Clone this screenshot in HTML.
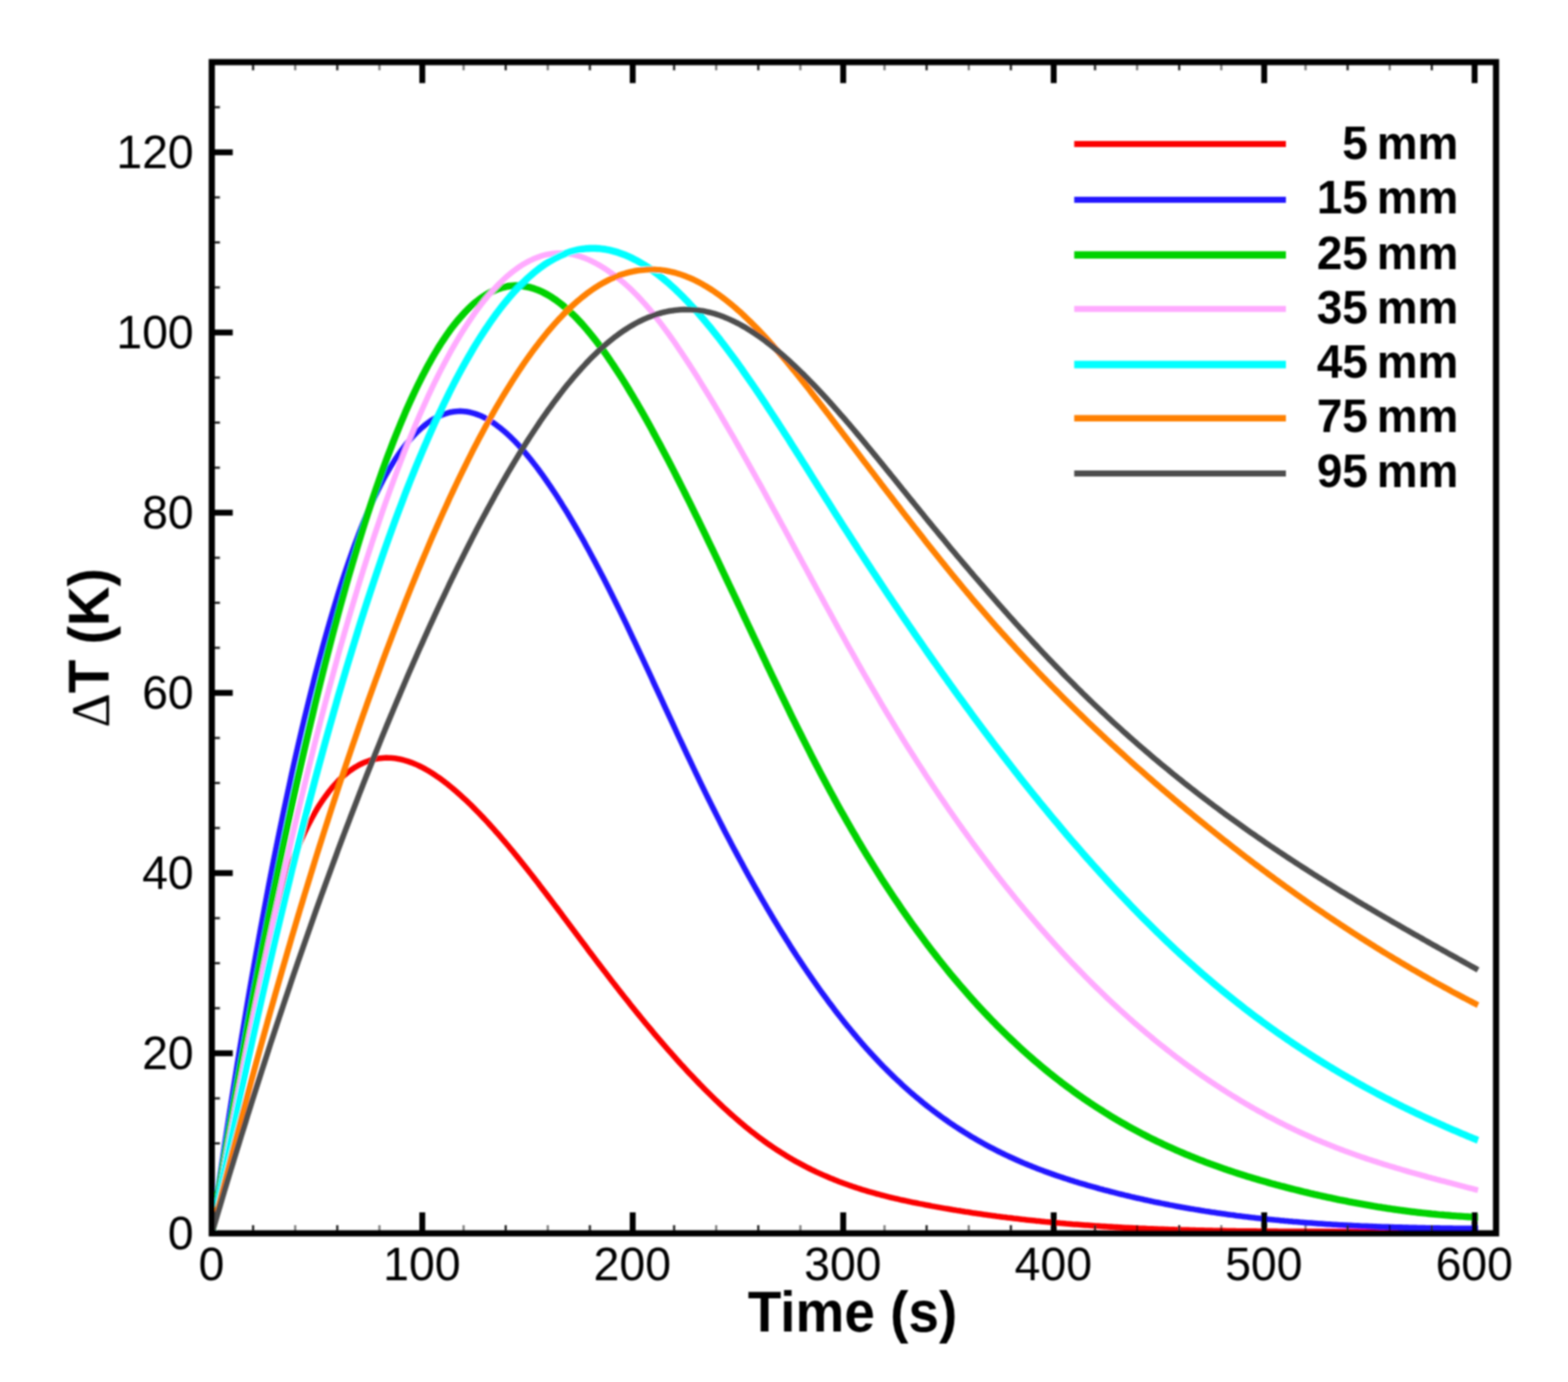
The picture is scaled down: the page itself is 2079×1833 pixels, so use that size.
<!DOCTYPE html>
<html lang="en"><head><meta charset="utf-8"><title>Temperature rise versus time</title>
<style>
html,body{margin:0;padding:0;background:#fff;}
body{width:2079px;height:1833px;overflow:hidden;}
svg{display:block;}
text{font-family:"Liberation Sans",Arial,Helvetica,sans-serif;fill:#000;}
.tl{font-size:62.5px;}
.ax{font-size:75.2px;font-weight:bold;}
.dl{font-size:72.8px;font-weight:normal;font-family:"Liberation Serif","DejaVu Serif",serif;}
.lg{font-size:62.6px;font-weight:bold;word-spacing:-5.26px;}
.cv{fill:none;stroke-linejoin:round;stroke-linecap:butt;}
</style></head><body>
<svg width="2079" height="1833" viewBox="0 0 2079 1833" role="img" aria-label="Temperature rise versus time at seven depths">
<defs>
<clipPath id="plot"><rect x="280.8" y="82.4" width="1702.8" height="1555.4"/></clipPath>
<filter id="soft" x="0" y="0" width="2079" height="1833" filterUnits="userSpaceOnUse"><feGaussianBlur stdDeviation="0.85"/></filter>
</defs>
<rect x="0" y="0" width="2079" height="1833" fill="#ffffff"/>
<g filter="url(#soft)">
<g class="cv" clip-path="url(#plot)">
<path d="M280.8 1636.0 L283.6 1623.6 L286.4 1611.0 L289.2 1598.1 L292.0 1584.9 L294.8 1571.6 L297.5 1558.0 L300.3 1544.3 L303.1 1530.4 L305.9 1516.3 L308.7 1502.2 L311.5 1487.9 L314.3 1473.6 L317.1 1459.2 L319.9 1444.8 L322.7 1430.4 L325.5 1415.9 L328.2 1401.6 L331.0 1387.2 L333.8 1372.9 L336.6 1358.7 L339.4 1344.7 L342.2 1330.7 L345.0 1316.9 L347.8 1303.3 L350.6 1289.9 L353.4 1276.6 L356.1 1263.6 L358.9 1250.9 L361.7 1238.4 L364.5 1226.3 L367.3 1214.4 L370.1 1202.9 L372.9 1191.8 L375.7 1181.2 L378.5 1171.2 L381.3 1161.7 L384.1 1153.0 L386.8 1144.8 L389.6 1137.2 L392.4 1130.0 L395.2 1123.3 L398.0 1116.8 L400.8 1110.6 L403.6 1104.6 L406.4 1098.8 L409.2 1093.3 L412.0 1087.9 L414.8 1082.8 L417.5 1077.9 L420.3 1073.1 L423.1 1068.6 L425.9 1064.3 L428.7 1060.1 L431.5 1056.2 L434.3 1052.4 L437.1 1048.8 L439.9 1045.3 L442.7 1042.1 L445.5 1039.0 L448.2 1036.0 L451.0 1033.2 L453.8 1030.6 L456.6 1028.1 L459.4 1025.8 L462.2 1023.6 L465.0 1021.5 L467.8 1019.6 L470.6 1017.8 L473.4 1016.2 L476.1 1014.6 L478.9 1013.2 L481.7 1011.9 L484.5 1010.7 L487.3 1009.7 L490.1 1008.7 L492.9 1007.9 L495.7 1007.2 L498.5 1006.6 L501.3 1006.1 L504.1 1005.7 L506.8 1005.4 L509.6 1005.2 L512.4 1005.1 L515.2 1005.2 L518.0 1005.3 L520.8 1005.5 L523.6 1005.8 L526.4 1006.2 L529.2 1006.7 L532.0 1007.3 L534.8 1008.0 L537.5 1008.8 L540.3 1009.6 L543.1 1010.6 L545.9 1011.6 L548.7 1012.7 L551.5 1013.9 L554.3 1015.1 L557.1 1016.5 L559.9 1017.9 L562.7 1019.4 L565.5 1021.0 L568.2 1022.6 L571.0 1024.3 L573.8 1026.0 L576.6 1027.9 L579.4 1029.8 L582.2 1031.7 L585.0 1033.7 L587.8 1035.8 L590.6 1038.0 L593.4 1040.1 L596.1 1042.4 L598.9 1044.7 L601.7 1047.0 L604.5 1049.4 L607.3 1051.9 L610.1 1054.3 L612.9 1056.9 L615.7 1059.5 L618.5 1062.1 L621.3 1064.7 L624.1 1067.4 L626.8 1070.2 L629.6 1073.0 L632.4 1075.8 L635.2 1078.7 L638.0 1081.6 L640.8 1084.5 L643.6 1087.5 L646.4 1090.5 L649.2 1093.6 L652.0 1096.7 L654.8 1099.8 L657.5 1102.9 L660.3 1106.1 L663.1 1109.3 L665.9 1112.6 L668.7 1115.8 L671.5 1119.1 L674.3 1122.4 L677.1 1125.8 L679.9 1129.2 L682.7 1132.6 L685.5 1136.0 L688.2 1139.4 L691.0 1142.9 L693.8 1146.4 L696.6 1149.9 L699.4 1153.4 L702.2 1157.0 L705.0 1160.5 L707.8 1164.1 L710.6 1167.7 L713.4 1171.3 L716.1 1175.0 L718.9 1178.6 L721.7 1182.3 L724.5 1185.9 L727.3 1189.6 L730.1 1193.3 L732.9 1197.0 L735.7 1200.7 L738.5 1204.4 L741.3 1208.1 L744.1 1211.8 L746.8 1215.6 L749.6 1219.3 L752.4 1223.0 L755.2 1226.8 L758.0 1230.5 L760.8 1234.2 L763.6 1238.0 L766.4 1241.7 L769.2 1245.5 L772.0 1249.2 L774.8 1252.9 L777.5 1256.6 L780.3 1260.4 L783.1 1264.1 L785.9 1267.8 L788.7 1271.5 L791.5 1275.2 L794.3 1278.9 L797.1 1282.5 L799.9 1286.2 L802.7 1289.8 L805.5 1293.5 L808.2 1297.1 L811.0 1300.7 L813.8 1304.3 L816.6 1307.9 L819.4 1311.5 L822.2 1315.1 L825.0 1318.6 L827.8 1322.2 L830.6 1325.7 L833.4 1329.2 L836.1 1332.7 L838.9 1336.2 L841.7 1339.6 L844.5 1343.1 L847.3 1346.5 L850.1 1350.0 L852.9 1353.4 L855.7 1356.8 L858.5 1360.1 L861.3 1363.5 L864.1 1366.8 L866.8 1370.2 L869.6 1373.5 L872.4 1376.7 L875.2 1380.0 L878.0 1383.3 L880.8 1386.5 L883.6 1389.7 L886.4 1392.9 L889.2 1396.1 L892.0 1399.3 L894.8 1402.4 L897.5 1405.5 L900.3 1408.6 L903.1 1411.7 L905.9 1414.7 L908.7 1417.8 L911.5 1420.8 L914.3 1423.8 L917.1 1426.7 L919.9 1429.7 L922.7 1432.6 L925.5 1435.5 L928.2 1438.4 L931.0 1441.2 L933.8 1444.1 L936.6 1446.9 L939.4 1449.7 L942.2 1452.4 L945.0 1455.1 L947.8 1457.9 L950.6 1460.5 L953.4 1463.2 L956.1 1465.8 L958.9 1468.4 L961.7 1471.0 L964.5 1473.6 L967.3 1476.1 L970.1 1478.6 L972.9 1481.0 L975.7 1483.5 L978.5 1485.9 L981.3 1488.3 L984.1 1490.6 L986.8 1493.0 L989.6 1495.3 L992.4 1497.5 L995.2 1499.8 L998.0 1502.0 L1000.8 1504.1 L1003.6 1506.3 L1006.4 1508.4 L1009.2 1510.5 L1012.0 1512.6 L1014.8 1514.6 L1017.5 1516.6 L1020.3 1518.5 L1023.1 1520.4 L1025.9 1522.3 L1028.7 1524.2 L1031.5 1526.0 L1034.3 1527.8 L1037.1 1529.6 L1039.9 1531.3 L1042.7 1533.1 L1045.5 1534.7 L1048.2 1536.4 L1051.0 1538.0 L1053.8 1539.6 L1056.6 1541.2 L1059.4 1542.7 L1062.2 1544.2 L1065.0 1545.7 L1067.8 1547.2 L1070.6 1548.6 L1073.4 1550.0 L1076.1 1551.4 L1078.9 1552.7 L1081.7 1554.1 L1084.5 1555.4 L1087.3 1556.6 L1090.1 1557.9 L1092.9 1559.1 L1095.7 1560.3 L1098.5 1561.5 L1101.3 1562.7 L1104.1 1563.8 L1106.8 1565.0 L1109.6 1566.1 L1112.4 1567.2 L1115.2 1568.2 L1118.0 1569.3 L1120.8 1570.3 L1123.6 1571.3 L1126.4 1572.3 L1129.2 1573.2 L1132.0 1574.2 L1134.8 1575.1 L1137.5 1576.0 L1140.3 1576.9 L1143.1 1577.8 L1145.9 1578.6 L1148.7 1579.5 L1151.5 1580.3 L1154.3 1581.1 L1157.1 1581.9 L1159.9 1582.7 L1162.7 1583.5 L1165.5 1584.2 L1168.2 1585.0 L1171.0 1585.7 L1173.8 1586.4 L1176.6 1587.1 L1179.4 1587.8 L1182.2 1588.5 L1185.0 1589.1 L1187.8 1589.8 L1190.6 1590.4 L1193.4 1591.1 L1196.1 1591.7 L1198.9 1592.3 L1201.7 1592.9 L1204.5 1593.5 L1207.3 1594.1 L1210.1 1594.7 L1212.9 1595.2 L1215.7 1595.8 L1218.5 1596.4 L1221.3 1596.9 L1224.1 1597.4 L1226.8 1598.0 L1229.6 1598.5 L1232.4 1599.0 L1235.2 1599.6 L1238.0 1600.1 L1240.8 1600.6 L1243.6 1601.1 L1246.4 1601.6 L1249.2 1602.1 L1252.0 1602.6 L1254.8 1603.1 L1257.5 1603.5 L1260.3 1604.0 L1263.1 1604.5 L1265.9 1604.9 L1268.7 1605.4 L1271.5 1605.8 L1274.3 1606.3 L1277.1 1606.7 L1279.9 1607.2 L1282.7 1607.6 L1285.5 1608.0 L1288.2 1608.5 L1291.0 1608.9 L1293.8 1609.3 L1296.6 1609.7 L1299.4 1610.1 L1302.2 1610.5 L1305.0 1610.9 L1307.8 1611.3 L1310.6 1611.7 L1313.4 1612.1 L1316.1 1612.4 L1318.9 1612.8 L1321.7 1613.2 L1324.5 1613.5 L1327.3 1613.9 L1330.1 1614.3 L1332.9 1614.6 L1335.7 1615.0 L1338.5 1615.3 L1341.3 1615.6 L1344.1 1616.0 L1346.8 1616.3 L1349.6 1616.6 L1352.4 1616.9 L1355.2 1617.3 L1358.0 1617.6 L1360.8 1617.9 L1363.6 1618.2 L1366.4 1618.5 L1369.2 1618.8 L1372.0 1619.1 L1374.8 1619.4 L1377.5 1619.6 L1380.3 1619.9 L1383.1 1620.2 L1385.9 1620.5 L1388.7 1620.7 L1391.5 1621.0 L1394.3 1621.3 L1397.1 1621.5 L1399.9 1621.8 L1402.7 1622.0 L1405.5 1622.3 L1408.2 1622.5 L1411.0 1622.7 L1413.8 1623.0 L1416.6 1623.2 L1419.4 1623.4 L1422.2 1623.7 L1425.0 1623.9 L1427.8 1624.1 L1430.6 1624.3 L1433.4 1624.5 L1436.1 1624.7 L1438.9 1624.9 L1441.7 1625.1 L1444.5 1625.3 L1447.3 1625.5 L1450.1 1625.7 L1452.9 1625.9 L1455.7 1626.1 L1458.5 1626.3 L1461.3 1626.5 L1464.1 1626.6 L1466.8 1626.8 L1469.6 1627.0 L1472.4 1627.1 L1475.2 1627.3 L1478.0 1627.5 L1480.8 1627.6 L1483.6 1627.8 L1486.4 1627.9 L1489.2 1628.1 L1492.0 1628.2 L1494.8 1628.4 L1497.5 1628.5 L1500.3 1628.6 L1503.1 1628.8 L1505.9 1628.9 L1508.7 1629.0 L1511.5 1629.2 L1514.3 1629.3 L1517.1 1629.4 L1519.9 1629.5 L1522.7 1629.7 L1525.5 1629.8 L1528.2 1629.9 L1531.0 1630.0 L1533.8 1630.1 L1536.6 1630.2 L1539.4 1630.3 L1542.2 1630.4 L1545.0 1630.5 L1547.8 1630.6 L1550.6 1630.7 L1553.4 1630.8 L1556.1 1630.9 L1558.9 1631.0 L1561.7 1631.0 L1564.5 1631.1 L1567.3 1631.2 L1570.1 1631.3 L1572.9 1631.4 L1575.7 1631.4 L1578.5 1631.5 L1581.3 1631.6 L1584.1 1631.6 L1586.8 1631.7 L1589.6 1631.8 L1592.4 1631.8 L1595.2 1631.9 L1598.0 1632.0 L1600.8 1632.0 L1603.6 1632.1 L1606.4 1632.1 L1609.2 1632.2 L1612.0 1632.2 L1614.8 1632.3 L1617.5 1632.3 L1620.3 1632.4 L1623.1 1632.4 L1625.9 1632.5 L1628.7 1632.5 L1631.5 1632.5 L1634.3 1632.6 L1637.1 1632.6 L1639.9 1632.7 L1642.7 1632.7 L1645.5 1632.7 L1648.2 1632.8 L1651.0 1632.8 L1653.8 1632.8 L1656.6 1632.9 L1659.4 1632.9 L1662.2 1632.9 L1665.0 1632.9 L1667.8 1633.0 L1670.6 1633.0 L1673.4 1633.0 L1676.2 1633.0 L1678.9 1633.0 L1681.7 1633.1 L1684.5 1633.1 L1687.3 1633.1 L1690.1 1633.1 L1692.9 1633.1 L1695.7 1633.2 L1698.5 1633.2 L1701.3 1633.2 L1704.1 1633.2 L1706.8 1633.2 L1709.6 1633.2 L1712.4 1633.2 L1715.2 1633.2 L1718.0 1633.3 L1720.8 1633.3 L1723.6 1633.3 L1726.4 1633.3 L1729.2 1633.3 L1732.0 1633.3 L1734.8 1633.3 L1737.5 1633.3 L1740.3 1633.3 L1743.1 1633.3 L1745.9 1633.3 L1748.7 1633.3 L1751.5 1633.3 L1754.3 1633.3 L1757.1 1633.3 L1759.9 1633.4 L1762.7 1633.4 L1765.5 1633.4 L1768.2 1633.4 L1771.0 1633.4 L1773.8 1633.4 L1776.6 1633.4 L1779.4 1633.4 L1782.2 1633.4 L1785.0 1633.4 L1787.8 1633.4 L1790.6 1633.4 L1793.4 1633.4 L1796.2 1633.4 L1798.9 1633.4 L1801.7 1633.4 L1804.5 1633.4 L1807.3 1633.4 L1810.1 1633.4 L1812.9 1633.4 L1815.7 1633.5 L1818.5 1633.5 L1821.3 1633.5 L1824.1 1633.5 L1826.8 1633.5 L1829.6 1633.5 L1832.4 1633.5 L1835.2 1633.5 L1838.0 1633.5 L1840.8 1633.5 L1843.6 1633.6 L1846.4 1633.6 L1849.2 1633.6 L1852.0 1633.6 L1854.8 1633.6 L1857.5 1633.6 L1860.3 1633.6 L1863.1 1633.7 L1865.9 1633.7 L1868.7 1633.7 L1871.5 1633.7 L1874.3 1633.7 L1877.1 1633.8 L1879.9 1633.8 L1882.7 1633.8 L1885.5 1633.8 L1888.2 1633.9 L1891.0 1633.9 L1893.8 1633.9 L1896.6 1634.0 L1899.4 1634.0 L1902.2 1634.0 L1905.0 1634.1 L1907.8 1634.1 L1910.6 1634.1 L1913.4 1634.2 L1916.2 1634.2 L1918.9 1634.3 L1921.7 1634.3 L1924.5 1634.3 L1927.3 1634.4 L1930.1 1634.4 L1932.9 1634.5 L1935.7 1634.5 L1938.5 1634.6 L1941.3 1634.6 L1944.1 1634.7 L1946.8 1634.8 L1949.6 1634.8 L1952.4 1634.9 L1955.2 1634.9 L1958.0 1635.0 L1959.7 1635.0" stroke="#fb0000" stroke-width="7.56"/>
<path d="M280.8 1636.0 L283.6 1616.4 L286.4 1597.0 L289.2 1577.8 L292.0 1558.8 L294.8 1540.0 L297.5 1521.4 L300.3 1503.0 L303.1 1484.8 L305.9 1466.8 L308.7 1449.1 L311.5 1431.5 L314.3 1414.1 L317.1 1396.9 L319.9 1379.8 L322.7 1363.0 L325.5 1346.4 L328.2 1330.0 L331.0 1313.7 L333.8 1297.6 L336.6 1281.8 L339.4 1266.1 L342.2 1250.6 L345.0 1235.2 L347.8 1220.1 L350.6 1205.1 L353.4 1190.3 L356.1 1175.7 L358.9 1161.3 L361.7 1147.0 L364.5 1132.9 L367.3 1119.0 L370.1 1105.3 L372.9 1091.7 L375.7 1078.3 L378.5 1065.1 L381.3 1052.0 L384.1 1039.1 L386.8 1026.4 L389.6 1013.8 L392.4 1001.4 L395.2 989.1 L398.0 977.1 L400.8 965.2 L403.6 953.4 L406.4 941.8 L409.2 930.4 L412.0 919.2 L414.8 908.1 L417.5 897.1 L420.3 886.4 L423.1 875.8 L425.9 865.4 L428.7 855.1 L431.5 845.0 L434.3 835.1 L437.1 825.4 L439.9 815.8 L442.7 806.4 L445.5 797.2 L448.2 788.1 L451.0 779.2 L453.8 770.5 L456.6 762.0 L459.4 753.6 L462.2 745.4 L465.0 737.4 L467.8 729.6 L470.6 721.9 L473.4 714.5 L476.1 707.2 L478.9 700.1 L481.7 693.1 L484.5 686.4 L487.3 679.8 L490.1 673.4 L492.9 667.2 L495.7 661.2 L498.5 655.3 L501.3 649.6 L504.1 644.1 L506.8 638.7 L509.6 633.5 L512.4 628.5 L515.2 623.6 L518.0 618.9 L520.8 614.4 L523.6 610.0 L526.4 605.8 L529.2 601.7 L532.0 597.8 L534.8 594.0 L537.5 590.4 L540.3 587.0 L543.1 583.7 L545.9 580.5 L548.7 577.5 L551.5 574.6 L554.3 571.9 L557.1 569.3 L559.9 566.8 L562.7 564.5 L565.5 562.3 L568.2 560.3 L571.0 558.3 L573.8 556.5 L576.6 554.9 L579.4 553.4 L582.2 552.0 L585.0 550.7 L587.8 549.6 L590.6 548.6 L593.4 547.8 L596.1 547.0 L598.9 546.5 L601.7 546.0 L604.5 545.7 L607.3 545.5 L610.1 545.4 L612.9 545.5 L615.7 545.7 L618.5 546.0 L621.3 546.5 L624.1 547.1 L626.8 547.8 L629.6 548.6 L632.4 549.6 L635.2 550.6 L638.0 551.8 L640.8 553.1 L643.6 554.6 L646.4 556.1 L649.2 557.7 L652.0 559.5 L654.8 561.3 L657.5 563.3 L660.3 565.4 L663.1 567.5 L665.9 569.8 L668.7 572.2 L671.5 574.6 L674.3 577.2 L677.1 579.8 L679.9 582.6 L682.7 585.4 L685.5 588.3 L688.2 591.3 L691.0 594.4 L693.8 597.6 L696.6 600.9 L699.4 604.2 L702.2 607.6 L705.0 611.1 L707.8 614.7 L710.6 618.3 L713.4 622.0 L716.1 625.8 L718.9 629.6 L721.7 633.5 L724.5 637.5 L727.3 641.6 L730.1 645.7 L732.9 649.8 L735.7 654.0 L738.5 658.3 L741.3 662.7 L744.1 667.1 L746.8 671.6 L749.6 676.1 L752.4 680.6 L755.2 685.3 L758.0 690.0 L760.8 694.7 L763.6 699.5 L766.4 704.4 L769.2 709.3 L772.0 714.2 L774.8 719.2 L777.5 724.2 L780.3 729.3 L783.1 734.5 L785.9 739.7 L788.7 744.9 L791.5 750.2 L794.3 755.5 L797.1 760.9 L799.9 766.3 L802.7 771.7 L805.5 777.2 L808.2 782.7 L811.0 788.3 L813.8 793.9 L816.6 799.5 L819.4 805.2 L822.2 810.9 L825.0 816.7 L827.8 822.4 L830.6 828.2 L833.4 834.1 L836.1 839.9 L838.9 845.8 L841.7 851.7 L844.5 857.6 L847.3 863.6 L850.1 869.5 L852.9 875.5 L855.7 881.5 L858.5 887.5 L861.3 893.5 L864.1 899.5 L866.8 905.6 L869.6 911.6 L872.4 917.7 L875.2 923.7 L878.0 929.7 L880.8 935.8 L883.6 941.8 L886.4 947.9 L889.2 953.9 L892.0 959.9 L894.8 966.0 L897.5 972.0 L900.3 978.0 L903.1 983.9 L905.9 989.9 L908.7 995.9 L911.5 1001.8 L914.3 1007.7 L917.1 1013.6 L919.9 1019.5 L922.7 1025.3 L925.5 1031.1 L928.2 1036.9 L931.0 1042.7 L933.8 1048.4 L936.6 1054.1 L939.4 1059.7 L942.2 1065.4 L945.0 1071.0 L947.8 1076.5 L950.6 1082.1 L953.4 1087.6 L956.1 1093.0 L958.9 1098.5 L961.7 1103.9 L964.5 1109.2 L967.3 1114.6 L970.1 1119.9 L972.9 1125.2 L975.7 1130.4 L978.5 1135.6 L981.3 1140.8 L984.1 1145.9 L986.8 1151.0 L989.6 1156.1 L992.4 1161.2 L995.2 1166.2 L998.0 1171.2 L1000.8 1176.1 L1003.6 1181.0 L1006.4 1185.9 L1009.2 1190.8 L1012.0 1195.6 L1014.8 1200.4 L1017.5 1205.1 L1020.3 1209.8 L1023.1 1214.5 L1025.9 1219.2 L1028.7 1223.8 L1031.5 1228.4 L1034.3 1232.9 L1037.1 1237.5 L1039.9 1241.9 L1042.7 1246.4 L1045.5 1250.8 L1048.2 1255.2 L1051.0 1259.6 L1053.8 1263.9 L1056.6 1268.2 L1059.4 1272.4 L1062.2 1276.6 L1065.0 1280.8 L1067.8 1285.0 L1070.6 1289.1 L1073.4 1293.2 L1076.1 1297.2 L1078.9 1301.2 L1081.7 1305.2 L1084.5 1309.2 L1087.3 1313.1 L1090.1 1316.9 L1092.9 1320.8 L1095.7 1324.6 L1098.5 1328.4 L1101.3 1332.1 L1104.1 1335.8 L1106.8 1339.5 L1109.6 1343.1 L1112.4 1346.7 L1115.2 1350.3 L1118.0 1353.8 L1120.8 1357.3 L1123.6 1360.8 L1126.4 1364.2 L1129.2 1367.6 L1132.0 1371.0 L1134.8 1374.3 L1137.5 1377.6 L1140.3 1380.8 L1143.1 1384.1 L1145.9 1387.2 L1148.7 1390.4 L1151.5 1393.5 L1154.3 1396.6 L1157.1 1399.6 L1159.9 1402.6 L1162.7 1405.6 L1165.5 1408.6 L1168.2 1411.5 L1171.0 1414.3 L1173.8 1417.2 L1176.6 1420.0 L1179.4 1422.7 L1182.2 1425.5 L1185.0 1428.2 L1187.8 1430.9 L1190.6 1433.5 L1193.4 1436.1 L1196.1 1438.7 L1198.9 1441.2 L1201.7 1443.7 L1204.5 1446.2 L1207.3 1448.7 L1210.1 1451.1 L1212.9 1453.5 L1215.7 1455.9 L1218.5 1458.2 L1221.3 1460.5 L1224.1 1462.8 L1226.8 1465.0 L1229.6 1467.2 L1232.4 1469.4 L1235.2 1471.6 L1238.0 1473.7 L1240.8 1475.8 L1243.6 1477.9 L1246.4 1479.9 L1249.2 1482.0 L1252.0 1484.0 L1254.8 1485.9 L1257.5 1487.9 L1260.3 1489.8 L1263.1 1491.7 L1265.9 1493.6 L1268.7 1495.4 L1271.5 1497.2 L1274.3 1499.0 L1277.1 1500.8 L1279.9 1502.6 L1282.7 1504.3 L1285.5 1506.0 L1288.2 1507.7 L1291.0 1509.3 L1293.8 1510.9 L1296.6 1512.6 L1299.4 1514.1 L1302.2 1515.7 L1305.0 1517.3 L1307.8 1518.8 L1310.6 1520.3 L1313.4 1521.8 L1316.1 1523.2 L1318.9 1524.7 L1321.7 1526.1 L1324.5 1527.5 L1327.3 1528.9 L1330.1 1530.2 L1332.9 1531.6 L1335.7 1532.9 L1338.5 1534.2 L1341.3 1535.5 L1344.1 1536.8 L1346.8 1538.0 L1349.6 1539.3 L1352.4 1540.5 L1355.2 1541.7 L1358.0 1542.9 L1360.8 1544.0 L1363.6 1545.2 L1366.4 1546.3 L1369.2 1547.5 L1372.0 1548.6 L1374.8 1549.7 L1377.5 1550.7 L1380.3 1551.8 L1383.1 1552.8 L1385.9 1553.9 L1388.7 1554.9 L1391.5 1555.9 L1394.3 1556.9 L1397.1 1557.9 L1399.9 1558.9 L1402.7 1559.8 L1405.5 1560.8 L1408.2 1561.7 L1411.0 1562.6 L1413.8 1563.5 L1416.6 1564.4 L1419.4 1565.3 L1422.2 1566.2 L1425.0 1567.1 L1427.8 1567.9 L1430.6 1568.8 L1433.4 1569.6 L1436.1 1570.4 L1438.9 1571.2 L1441.7 1572.1 L1444.5 1572.9 L1447.3 1573.7 L1450.1 1574.4 L1452.9 1575.2 L1455.7 1576.0 L1458.5 1576.8 L1461.3 1577.5 L1464.1 1578.3 L1466.8 1579.0 L1469.6 1579.7 L1472.4 1580.5 L1475.2 1581.2 L1478.0 1581.9 L1480.8 1582.6 L1483.6 1583.3 L1486.4 1584.0 L1489.2 1584.7 L1492.0 1585.4 L1494.8 1586.0 L1497.5 1586.7 L1500.3 1587.4 L1503.1 1588.0 L1505.9 1588.7 L1508.7 1589.3 L1511.5 1589.9 L1514.3 1590.5 L1517.1 1591.2 L1519.9 1591.8 L1522.7 1592.4 L1525.5 1593.0 L1528.2 1593.6 L1531.0 1594.2 L1533.8 1594.7 L1536.6 1595.3 L1539.4 1595.9 L1542.2 1596.4 L1545.0 1597.0 L1547.8 1597.5 L1550.6 1598.1 L1553.4 1598.6 L1556.1 1599.1 L1558.9 1599.7 L1561.7 1600.2 L1564.5 1600.7 L1567.3 1601.2 L1570.1 1601.7 L1572.9 1602.2 L1575.7 1602.7 L1578.5 1603.2 L1581.3 1603.6 L1584.1 1604.1 L1586.8 1604.6 L1589.6 1605.0 L1592.4 1605.5 L1595.2 1605.9 L1598.0 1606.4 L1600.8 1606.8 L1603.6 1607.2 L1606.4 1607.7 L1609.2 1608.1 L1612.0 1608.5 L1614.8 1608.9 L1617.5 1609.3 L1620.3 1609.7 L1623.1 1610.1 L1625.9 1610.5 L1628.7 1610.9 L1631.5 1611.3 L1634.3 1611.6 L1637.1 1612.0 L1639.9 1612.4 L1642.7 1612.7 L1645.5 1613.1 L1648.2 1613.4 L1651.0 1613.8 L1653.8 1614.1 L1656.6 1614.4 L1659.4 1614.8 L1662.2 1615.1 L1665.0 1615.4 L1667.8 1615.7 L1670.6 1616.0 L1673.4 1616.3 L1676.2 1616.6 L1678.9 1616.9 L1681.7 1617.2 L1684.5 1617.5 L1687.3 1617.8 L1690.1 1618.1 L1692.9 1618.3 L1695.7 1618.6 L1698.5 1618.9 L1701.3 1619.1 L1704.1 1619.4 L1706.8 1619.6 L1709.6 1619.9 L1712.4 1620.1 L1715.2 1620.4 L1718.0 1620.6 L1720.8 1620.8 L1723.6 1621.1 L1726.4 1621.3 L1729.2 1621.5 L1732.0 1621.7 L1734.8 1621.9 L1737.5 1622.1 L1740.3 1622.3 L1743.1 1622.5 L1745.9 1622.7 L1748.7 1622.9 L1751.5 1623.1 L1754.3 1623.3 L1757.1 1623.5 L1759.9 1623.7 L1762.7 1623.8 L1765.5 1624.0 L1768.2 1624.2 L1771.0 1624.3 L1773.8 1624.5 L1776.6 1624.7 L1779.4 1624.8 L1782.2 1625.0 L1785.0 1625.1 L1787.8 1625.3 L1790.6 1625.4 L1793.4 1625.5 L1796.2 1625.7 L1798.9 1625.8 L1801.7 1625.9 L1804.5 1626.1 L1807.3 1626.2 L1810.1 1626.3 L1812.9 1626.4 L1815.7 1626.5 L1818.5 1626.6 L1821.3 1626.8 L1824.1 1626.9 L1826.8 1627.0 L1829.6 1627.1 L1832.4 1627.2 L1835.2 1627.3 L1838.0 1627.4 L1840.8 1627.4 L1843.6 1627.5 L1846.4 1627.6 L1849.2 1627.7 L1852.0 1627.8 L1854.8 1627.9 L1857.5 1627.9 L1860.3 1628.0 L1863.1 1628.1 L1865.9 1628.1 L1868.7 1628.2 L1871.5 1628.3 L1874.3 1628.3 L1877.1 1628.4 L1879.9 1628.5 L1882.7 1628.5 L1885.5 1628.6 L1888.2 1628.6 L1891.0 1628.7 L1893.8 1628.7 L1896.6 1628.8 L1899.4 1628.8 L1902.2 1628.9 L1905.0 1628.9 L1907.8 1628.9 L1910.6 1629.0 L1913.4 1629.0 L1916.2 1629.0 L1918.9 1629.1 L1921.7 1629.1 L1924.5 1629.1 L1927.3 1629.2 L1930.1 1629.2 L1932.9 1629.2 L1935.7 1629.2 L1938.5 1629.3 L1941.3 1629.3 L1944.1 1629.3 L1946.8 1629.3 L1949.6 1629.4 L1952.4 1629.4 L1955.2 1629.4 L1958.0 1629.4 L1959.7 1629.4" stroke="#2018ff" stroke-width="7.56"/>
<path d="M280.8 1636.0 L283.6 1619.0 L286.4 1602.2 L289.2 1585.4 L292.0 1568.8 L294.8 1552.3 L297.5 1535.9 L300.3 1519.6 L303.1 1503.3 L305.9 1487.3 L308.7 1471.3 L311.5 1455.4 L314.3 1439.6 L317.1 1424.0 L319.9 1408.4 L322.7 1393.0 L325.5 1377.7 L328.2 1362.4 L331.0 1347.3 L333.8 1332.3 L336.6 1317.4 L339.4 1302.7 L342.2 1288.0 L345.0 1273.4 L347.8 1259.0 L350.6 1244.7 L353.4 1230.4 L356.1 1216.3 L358.9 1202.3 L361.7 1188.4 L364.5 1174.7 L367.3 1161.0 L370.1 1147.5 L372.9 1134.0 L375.7 1120.7 L378.5 1107.5 L381.3 1094.4 L384.1 1081.4 L386.8 1068.5 L389.6 1055.8 L392.4 1043.1 L395.2 1030.6 L398.0 1018.2 L400.8 1005.9 L403.6 993.7 L406.4 981.6 L409.2 969.7 L412.0 957.9 L414.8 946.1 L417.5 934.5 L420.3 923.0 L423.1 911.6 L425.9 900.4 L428.7 889.2 L431.5 878.2 L434.3 867.3 L437.1 856.5 L439.9 845.8 L442.7 835.2 L445.5 824.8 L448.2 814.5 L451.0 804.2 L453.8 794.2 L456.6 784.2 L459.4 774.3 L462.2 764.6 L465.0 754.9 L467.8 745.4 L470.6 736.1 L473.4 726.8 L476.1 717.6 L478.9 708.6 L481.7 699.7 L484.5 690.9 L487.3 682.2 L490.1 673.7 L492.9 665.2 L495.7 656.9 L498.5 648.7 L501.3 640.7 L504.1 632.7 L506.8 624.9 L509.6 617.2 L512.4 609.6 L515.2 602.1 L518.0 594.8 L520.8 587.5 L523.6 580.4 L526.4 573.5 L529.2 566.6 L532.0 559.8 L534.8 553.2 L537.5 546.7 L540.3 540.4 L543.1 534.1 L545.9 528.0 L548.7 522.0 L551.5 516.1 L554.3 510.3 L557.1 504.7 L559.9 499.2 L562.7 493.8 L565.5 488.5 L568.2 483.4 L571.0 478.4 L573.8 473.5 L576.6 468.7 L579.4 464.1 L582.2 459.5 L585.0 455.1 L587.8 450.9 L590.6 446.7 L593.4 442.7 L596.1 438.8 L598.9 435.0 L601.7 431.4 L604.5 427.9 L607.3 424.5 L610.1 421.2 L612.9 418.1 L615.7 415.0 L618.5 412.1 L621.3 409.3 L624.1 406.7 L626.8 404.2 L629.6 401.7 L632.4 399.5 L635.2 397.3 L638.0 395.2 L640.8 393.3 L643.6 391.5 L646.4 389.8 L649.2 388.3 L652.0 386.8 L654.8 385.5 L657.5 384.3 L660.3 383.2 L663.1 382.3 L665.9 381.4 L668.7 380.7 L671.5 380.1 L674.3 379.6 L677.1 379.2 L679.9 379.0 L682.7 378.8 L685.5 378.8 L688.2 378.9 L691.0 379.1 L693.8 379.4 L696.6 379.9 L699.4 380.4 L702.2 381.0 L705.0 381.8 L707.8 382.7 L710.6 383.7 L713.4 384.7 L716.1 385.9 L718.9 387.2 L721.7 388.6 L724.5 390.1 L727.3 391.7 L730.1 393.4 L732.9 395.2 L735.7 397.1 L738.5 399.1 L741.3 401.2 L744.1 403.3 L746.8 405.6 L749.6 408.0 L752.4 410.4 L755.2 413.0 L758.0 415.6 L760.8 418.3 L763.6 421.1 L766.4 424.0 L769.2 427.0 L772.0 430.0 L774.8 433.2 L777.5 436.4 L780.3 439.7 L783.1 443.1 L785.9 446.6 L788.7 450.1 L791.5 453.7 L794.3 457.4 L797.1 461.2 L799.9 465.0 L802.7 468.9 L805.5 472.9 L808.2 476.9 L811.0 481.0 L813.8 485.1 L816.6 489.4 L819.4 493.7 L822.2 498.0 L825.0 502.4 L827.8 506.9 L830.6 511.4 L833.4 516.0 L836.1 520.6 L838.9 525.2 L841.7 530.0 L844.5 534.7 L847.3 539.6 L850.1 544.4 L852.9 549.3 L855.7 554.3 L858.5 559.3 L861.3 564.3 L864.1 569.4 L866.8 574.5 L869.6 579.6 L872.4 584.8 L875.2 590.0 L878.0 595.3 L880.8 600.6 L883.6 605.9 L886.4 611.2 L889.2 616.6 L892.0 622.0 L894.8 627.5 L897.5 632.9 L900.3 638.4 L903.1 644.0 L905.9 649.5 L908.7 655.1 L911.5 660.7 L914.3 666.3 L917.1 672.0 L919.9 677.7 L922.7 683.4 L925.5 689.1 L928.2 694.8 L931.0 700.6 L933.8 706.3 L936.6 712.1 L939.4 717.9 L942.2 723.7 L945.0 729.5 L947.8 735.4 L950.6 741.2 L953.4 747.1 L956.1 753.0 L958.9 758.9 L961.7 764.8 L964.5 770.7 L967.3 776.6 L970.1 782.5 L972.9 788.4 L975.7 794.3 L978.5 800.2 L981.3 806.1 L984.1 812.1 L986.8 818.0 L989.6 823.9 L992.4 829.9 L995.2 835.8 L998.0 841.7 L1000.8 847.6 L1003.6 853.5 L1006.4 859.4 L1009.2 865.3 L1012.0 871.2 L1014.8 877.1 L1017.5 883.0 L1020.3 888.8 L1023.1 894.7 L1025.9 900.5 L1028.7 906.3 L1031.5 912.1 L1034.3 917.9 L1037.1 923.7 L1039.9 929.5 L1042.7 935.2 L1045.5 941.0 L1048.2 946.7 L1051.0 952.4 L1053.8 958.0 L1056.6 963.7 L1059.4 969.3 L1062.2 974.9 L1065.0 980.5 L1067.8 986.0 L1070.6 991.5 L1073.4 997.0 L1076.1 1002.5 L1078.9 1007.9 L1081.7 1013.3 L1084.5 1018.7 L1087.3 1024.1 L1090.1 1029.4 L1092.9 1034.7 L1095.7 1039.9 L1098.5 1045.1 L1101.3 1050.3 L1104.1 1055.4 L1106.8 1060.5 L1109.6 1065.6 L1112.4 1070.7 L1115.2 1075.7 L1118.0 1080.6 L1120.8 1085.6 L1123.6 1090.5 L1126.4 1095.3 L1129.2 1100.2 L1132.0 1105.0 L1134.8 1109.7 L1137.5 1114.5 L1140.3 1119.2 L1143.1 1123.8 L1145.9 1128.5 L1148.7 1133.1 L1151.5 1137.6 L1154.3 1142.2 L1157.1 1146.7 L1159.9 1151.1 L1162.7 1155.6 L1165.5 1160.0 L1168.2 1164.4 L1171.0 1168.7 L1173.8 1173.0 L1176.6 1177.3 L1179.4 1181.6 L1182.2 1185.8 L1185.0 1190.0 L1187.8 1194.1 L1190.6 1198.2 L1193.4 1202.3 L1196.1 1206.4 L1198.9 1210.4 L1201.7 1214.4 L1204.5 1218.4 L1207.3 1222.4 L1210.1 1226.3 L1212.9 1230.2 L1215.7 1234.0 L1218.5 1237.8 L1221.3 1241.6 L1224.1 1245.4 L1226.8 1249.1 L1229.6 1252.9 L1232.4 1256.5 L1235.2 1260.2 L1238.0 1263.8 L1240.8 1267.4 L1243.6 1271.0 L1246.4 1274.5 L1249.2 1278.0 L1252.0 1281.5 L1254.8 1285.0 L1257.5 1288.4 L1260.3 1291.8 L1263.1 1295.2 L1265.9 1298.5 L1268.7 1301.8 L1271.5 1305.1 L1274.3 1308.4 L1277.1 1311.6 L1279.9 1314.8 L1282.7 1318.0 L1285.5 1321.2 L1288.2 1324.3 L1291.0 1327.4 L1293.8 1330.5 L1296.6 1333.6 L1299.4 1336.6 L1302.2 1339.6 L1305.0 1342.6 L1307.8 1345.5 L1310.6 1348.5 L1313.4 1351.4 L1316.1 1354.3 L1318.9 1357.1 L1321.7 1359.9 L1324.5 1362.8 L1327.3 1365.5 L1330.1 1368.3 L1332.9 1371.0 L1335.7 1373.7 L1338.5 1376.4 L1341.3 1379.1 L1344.1 1381.7 L1346.8 1384.3 L1349.6 1386.9 L1352.4 1389.5 L1355.2 1392.1 L1358.0 1394.6 L1360.8 1397.1 L1363.6 1399.6 L1366.4 1402.0 L1369.2 1404.5 L1372.0 1406.9 L1374.8 1409.3 L1377.5 1411.6 L1380.3 1414.0 L1383.1 1416.3 L1385.9 1418.6 L1388.7 1420.9 L1391.5 1423.2 L1394.3 1425.4 L1397.1 1427.6 L1399.9 1429.8 L1402.7 1432.0 L1405.5 1434.2 L1408.2 1436.3 L1411.0 1438.4 L1413.8 1440.5 L1416.6 1442.6 L1419.4 1444.6 L1422.2 1446.7 L1425.0 1448.7 L1427.8 1450.7 L1430.6 1452.7 L1433.4 1454.6 L1436.1 1456.6 L1438.9 1458.5 L1441.7 1460.4 L1444.5 1462.3 L1447.3 1464.2 L1450.1 1466.0 L1452.9 1467.8 L1455.7 1469.7 L1458.5 1471.4 L1461.3 1473.2 L1464.1 1475.0 L1466.8 1476.7 L1469.6 1478.4 L1472.4 1480.2 L1475.2 1481.8 L1478.0 1483.5 L1480.8 1485.2 L1483.6 1486.8 L1486.4 1488.4 L1489.2 1490.0 L1492.0 1491.6 L1494.8 1493.2 L1497.5 1494.7 L1500.3 1496.3 L1503.1 1497.8 L1505.9 1499.3 L1508.7 1500.8 L1511.5 1502.3 L1514.3 1503.8 L1517.1 1505.2 L1519.9 1506.6 L1522.7 1508.1 L1525.5 1509.5 L1528.2 1510.8 L1531.0 1512.2 L1533.8 1513.6 L1536.6 1514.9 L1539.4 1516.2 L1542.2 1517.6 L1545.0 1518.9 L1547.8 1520.2 L1550.6 1521.4 L1553.4 1522.7 L1556.1 1523.9 L1558.9 1525.2 L1561.7 1526.4 L1564.5 1527.6 L1567.3 1528.8 L1570.1 1530.0 L1572.9 1531.2 L1575.7 1532.3 L1578.5 1533.5 L1581.3 1534.6 L1584.1 1535.7 L1586.8 1536.8 L1589.6 1537.9 L1592.4 1539.0 L1595.2 1540.1 L1598.0 1541.2 L1600.8 1542.2 L1603.6 1543.3 L1606.4 1544.3 L1609.2 1545.3 L1612.0 1546.3 L1614.8 1547.3 L1617.5 1548.3 L1620.3 1549.3 L1623.1 1550.3 L1625.9 1551.2 L1628.7 1552.2 L1631.5 1553.1 L1634.3 1554.0 L1637.1 1555.0 L1639.9 1555.9 L1642.7 1556.8 L1645.5 1557.7 L1648.2 1558.5 L1651.0 1559.4 L1653.8 1560.3 L1656.6 1561.1 L1659.4 1562.0 L1662.2 1562.8 L1665.0 1563.7 L1667.8 1564.5 L1670.6 1565.3 L1673.4 1566.1 L1676.2 1566.9 L1678.9 1567.7 L1681.7 1568.5 L1684.5 1569.3 L1687.3 1570.1 L1690.1 1570.8 L1692.9 1571.6 L1695.7 1572.3 L1698.5 1573.1 L1701.3 1573.8 L1704.1 1574.5 L1706.8 1575.3 L1709.6 1576.0 L1712.4 1576.7 L1715.2 1577.4 L1718.0 1578.1 L1720.8 1578.8 L1723.6 1579.5 L1726.4 1580.2 L1729.2 1580.9 L1732.0 1581.5 L1734.8 1582.2 L1737.5 1582.9 L1740.3 1583.5 L1743.1 1584.2 L1745.9 1584.8 L1748.7 1585.4 L1751.5 1586.1 L1754.3 1586.7 L1757.1 1587.3 L1759.9 1587.9 L1762.7 1588.5 L1765.5 1589.1 L1768.2 1589.7 L1771.0 1590.3 L1773.8 1590.9 L1776.6 1591.5 L1779.4 1592.0 L1782.2 1592.6 L1785.0 1593.1 L1787.8 1593.7 L1790.6 1594.2 L1793.4 1594.8 L1796.2 1595.3 L1798.9 1595.8 L1801.7 1596.3 L1804.5 1596.8 L1807.3 1597.3 L1810.1 1597.8 L1812.9 1598.3 L1815.7 1598.8 L1818.5 1599.3 L1821.3 1599.8 L1824.1 1600.2 L1826.8 1600.7 L1829.6 1601.1 L1832.4 1601.6 L1835.2 1602.0 L1838.0 1602.4 L1840.8 1602.9 L1843.6 1603.3 L1846.4 1603.7 L1849.2 1604.1 L1852.0 1604.5 L1854.8 1604.9 L1857.5 1605.2 L1860.3 1605.6 L1863.1 1606.0 L1865.9 1606.4 L1868.7 1606.7 L1871.5 1607.1 L1874.3 1607.4 L1877.1 1607.7 L1879.9 1608.1 L1882.7 1608.4 L1885.5 1608.7 L1888.2 1609.0 L1891.0 1609.3 L1893.8 1609.6 L1896.6 1609.9 L1899.4 1610.2 L1902.2 1610.4 L1905.0 1610.7 L1907.8 1611.0 L1910.6 1611.2 L1913.4 1611.4 L1916.2 1611.7 L1918.9 1611.9 L1921.7 1612.1 L1924.5 1612.4 L1927.3 1612.6 L1930.1 1612.8 L1932.9 1613.0 L1935.7 1613.1 L1938.5 1613.3 L1941.3 1613.5 L1944.1 1613.7 L1946.8 1613.8 L1949.6 1614.0 L1952.4 1614.1 L1955.2 1614.2 L1958.0 1614.4 L1959.7 1614.4" stroke="#00d200" stroke-width="9.17"/>
<path d="M280.8 1636.0 L283.6 1620.6 L286.4 1605.2 L289.2 1589.9 L292.0 1574.8 L294.8 1559.7 L297.5 1544.7 L300.3 1529.8 L303.1 1515.0 L305.9 1500.3 L308.7 1485.6 L311.5 1471.1 L314.3 1456.6 L317.1 1442.3 L319.9 1428.0 L322.7 1413.8 L325.5 1399.7 L328.2 1385.7 L331.0 1371.8 L333.8 1358.0 L336.6 1344.3 L339.4 1330.6 L342.2 1317.1 L345.0 1303.6 L347.8 1290.3 L350.6 1277.0 L353.4 1263.8 L356.1 1250.7 L358.9 1237.7 L361.7 1224.8 L364.5 1212.0 L367.3 1199.3 L370.1 1186.6 L372.9 1174.1 L375.7 1161.6 L378.5 1149.2 L381.3 1137.0 L384.1 1124.8 L386.8 1112.7 L389.6 1100.7 L392.4 1088.8 L395.2 1076.9 L398.0 1065.2 L400.8 1053.6 L403.6 1042.0 L406.4 1030.6 L409.2 1019.2 L412.0 1007.9 L414.8 996.7 L417.5 985.6 L420.3 974.6 L423.1 963.7 L425.9 952.9 L428.7 942.2 L431.5 931.5 L434.3 921.0 L437.1 910.5 L439.9 900.2 L442.7 889.9 L445.5 879.7 L448.2 869.6 L451.0 859.6 L453.8 849.7 L456.6 839.9 L459.4 830.2 L462.2 820.6 L465.0 811.1 L467.8 801.6 L470.6 792.3 L473.4 783.0 L476.1 773.9 L478.9 764.8 L481.7 755.8 L484.5 747.0 L487.3 738.2 L490.1 729.5 L492.9 720.9 L495.7 712.4 L498.5 704.0 L501.3 695.7 L504.1 687.4 L506.8 679.3 L509.6 671.3 L512.4 663.3 L515.2 655.5 L518.0 647.7 L520.8 640.1 L523.6 632.5 L526.4 625.0 L529.2 617.6 L532.0 610.4 L534.8 603.2 L537.5 596.1 L540.3 589.1 L543.1 582.2 L545.9 575.4 L548.7 568.6 L551.5 562.0 L554.3 555.5 L557.1 549.0 L559.9 542.7 L562.7 536.5 L565.5 530.3 L568.2 524.3 L571.0 518.3 L573.8 512.4 L576.6 506.7 L579.4 501.0 L582.2 495.4 L585.0 489.9 L587.8 484.5 L590.6 479.2 L593.4 474.0 L596.1 468.9 L598.9 463.9 L601.7 459.0 L604.5 454.2 L607.3 449.5 L610.1 444.8 L612.9 440.3 L615.7 435.9 L618.5 431.5 L621.3 427.3 L624.1 423.1 L626.8 419.1 L629.6 415.1 L632.4 411.2 L635.2 407.5 L638.0 403.8 L640.8 400.2 L643.6 396.7 L646.4 393.4 L649.2 390.1 L652.0 386.9 L654.8 383.8 L657.5 380.8 L660.3 377.9 L663.1 375.1 L665.9 372.4 L668.7 369.8 L671.5 367.2 L674.3 364.8 L677.1 362.5 L679.9 360.3 L682.7 358.1 L685.5 356.1 L688.2 354.2 L691.0 352.3 L693.8 350.6 L696.6 348.9 L699.4 347.4 L702.2 345.9 L705.0 344.6 L707.8 343.3 L710.6 342.1 L713.4 341.1 L716.1 340.1 L718.9 339.2 L721.7 338.4 L724.5 337.8 L727.3 337.2 L730.1 336.7 L732.9 336.3 L735.7 336.0 L738.5 335.8 L741.3 335.7 L744.1 335.8 L746.8 335.9 L749.6 336.1 L752.4 336.4 L755.2 336.7 L758.0 337.2 L760.8 337.8 L763.6 338.5 L766.4 339.3 L769.2 340.1 L772.0 341.1 L774.8 342.1 L777.5 343.2 L780.3 344.4 L783.1 345.7 L785.9 347.1 L788.7 348.5 L791.5 350.0 L794.3 351.6 L797.1 353.3 L799.9 355.0 L802.7 356.8 L805.5 358.6 L808.2 360.6 L811.0 362.5 L813.8 364.6 L816.6 366.7 L819.4 368.8 L822.2 371.1 L825.0 373.4 L827.8 375.7 L830.6 378.2 L833.4 380.7 L836.1 383.3 L838.9 386.0 L841.7 388.8 L844.5 391.6 L847.3 394.6 L850.1 397.6 L852.9 400.7 L855.7 403.8 L858.5 407.0 L861.3 410.3 L864.1 413.7 L866.8 417.1 L869.6 420.6 L872.4 424.2 L875.2 427.8 L878.0 431.5 L880.8 435.2 L883.6 439.0 L886.4 442.8 L889.2 446.7 L892.0 450.7 L894.8 454.7 L897.5 458.7 L900.3 462.8 L903.1 466.9 L905.9 471.1 L908.7 475.3 L911.5 479.6 L914.3 483.9 L917.1 488.2 L919.9 492.6 L922.7 497.0 L925.5 501.4 L928.2 505.9 L931.0 510.4 L933.8 514.9 L936.6 519.4 L939.4 524.0 L942.2 528.6 L945.0 533.2 L947.8 537.9 L950.6 542.6 L953.4 547.2 L956.1 552.0 L958.9 556.7 L961.7 561.5 L964.5 566.3 L967.3 571.1 L970.1 575.9 L972.9 580.7 L975.7 585.6 L978.5 590.5 L981.3 595.4 L984.1 600.3 L986.8 605.2 L989.6 610.2 L992.4 615.1 L995.2 620.1 L998.0 625.1 L1000.8 630.1 L1003.6 635.2 L1006.4 640.2 L1009.2 645.2 L1012.0 650.3 L1014.8 655.4 L1017.5 660.4 L1020.3 665.5 L1023.1 670.6 L1025.9 675.7 L1028.7 680.8 L1031.5 685.9 L1034.3 691.1 L1037.1 696.2 L1039.9 701.3 L1042.7 706.5 L1045.5 711.6 L1048.2 716.8 L1051.0 721.9 L1053.8 727.1 L1056.6 732.2 L1059.4 737.4 L1062.2 742.5 L1065.0 747.7 L1067.8 752.8 L1070.6 758.0 L1073.4 763.1 L1076.1 768.3 L1078.9 773.4 L1081.7 778.5 L1084.5 783.7 L1087.3 788.8 L1090.1 793.9 L1092.9 799.1 L1095.7 804.2 L1098.5 809.3 L1101.3 814.4 L1104.1 819.5 L1106.8 824.5 L1109.6 829.6 L1112.4 834.7 L1115.2 839.7 L1118.0 844.7 L1120.8 849.8 L1123.6 854.8 L1126.4 859.8 L1129.2 864.7 L1132.0 869.7 L1134.8 874.7 L1137.5 879.6 L1140.3 884.5 L1143.1 889.4 L1145.9 894.3 L1148.7 899.2 L1151.5 904.0 L1154.3 908.8 L1157.1 913.6 L1159.9 918.4 L1162.7 923.2 L1165.5 927.9 L1168.2 932.7 L1171.0 937.4 L1173.8 942.0 L1176.6 946.7 L1179.4 951.3 L1182.2 955.9 L1185.0 960.5 L1187.8 965.1 L1190.6 969.7 L1193.4 974.2 L1196.1 978.7 L1198.9 983.2 L1201.7 987.7 L1204.5 992.1 L1207.3 996.5 L1210.1 1000.9 L1212.9 1005.3 L1215.7 1009.7 L1218.5 1014.0 L1221.3 1018.3 L1224.1 1022.6 L1226.8 1026.9 L1229.6 1031.2 L1232.4 1035.4 L1235.2 1039.6 L1238.0 1043.8 L1240.8 1048.0 L1243.6 1052.2 L1246.4 1056.3 L1249.2 1060.4 L1252.0 1064.5 L1254.8 1068.6 L1257.5 1072.6 L1260.3 1076.7 L1263.1 1080.7 L1265.9 1084.7 L1268.7 1088.6 L1271.5 1092.6 L1274.3 1096.5 L1277.1 1100.5 L1279.9 1104.3 L1282.7 1108.2 L1285.5 1112.1 L1288.2 1115.9 L1291.0 1119.7 L1293.8 1123.5 L1296.6 1127.3 L1299.4 1131.1 L1302.2 1134.8 L1305.0 1138.5 L1307.8 1142.2 L1310.6 1145.9 L1313.4 1149.6 L1316.1 1153.2 L1318.9 1156.8 L1321.7 1160.4 L1324.5 1164.0 L1327.3 1167.6 L1330.1 1171.1 L1332.9 1174.7 L1335.7 1178.2 L1338.5 1181.7 L1341.3 1185.1 L1344.1 1188.6 L1346.8 1192.0 L1349.6 1195.4 L1352.4 1198.8 L1355.2 1202.2 L1358.0 1205.6 L1360.8 1208.9 L1363.6 1212.2 L1366.4 1215.5 L1369.2 1218.8 L1372.0 1222.1 L1374.8 1225.3 L1377.5 1228.5 L1380.3 1231.8 L1383.1 1234.9 L1385.9 1238.1 L1388.7 1241.3 L1391.5 1244.4 L1394.3 1247.5 L1397.1 1250.6 L1399.9 1253.7 L1402.7 1256.8 L1405.5 1259.8 L1408.2 1262.9 L1411.0 1265.9 L1413.8 1268.9 L1416.6 1271.9 L1419.4 1274.8 L1422.2 1277.8 L1425.0 1280.7 L1427.8 1283.6 L1430.6 1286.5 L1433.4 1289.4 L1436.1 1292.2 L1438.9 1295.1 L1441.7 1297.9 L1444.5 1300.7 L1447.3 1303.5 L1450.1 1306.2 L1452.9 1309.0 L1455.7 1311.7 L1458.5 1314.4 L1461.3 1317.2 L1464.1 1319.8 L1466.8 1322.5 L1469.6 1325.2 L1472.4 1327.8 L1475.2 1330.4 L1478.0 1333.0 L1480.8 1335.6 L1483.6 1338.2 L1486.4 1340.7 L1489.2 1343.2 L1492.0 1345.8 L1494.8 1348.3 L1497.5 1350.8 L1500.3 1353.2 L1503.1 1355.7 L1505.9 1358.1 L1508.7 1360.5 L1511.5 1362.9 L1514.3 1365.3 L1517.1 1367.7 L1519.9 1370.1 L1522.7 1372.4 L1525.5 1374.7 L1528.2 1377.0 L1531.0 1379.3 L1533.8 1381.6 L1536.6 1383.9 L1539.4 1386.1 L1542.2 1388.3 L1545.0 1390.5 L1547.8 1392.7 L1550.6 1394.9 L1553.4 1397.1 L1556.1 1399.2 L1558.9 1401.4 L1561.7 1403.5 L1564.5 1405.6 L1567.3 1407.7 L1570.1 1409.8 L1572.9 1411.8 L1575.7 1413.9 L1578.5 1415.9 L1581.3 1417.9 L1584.1 1419.9 L1586.8 1421.9 L1589.6 1423.9 L1592.4 1425.8 L1595.2 1427.8 L1598.0 1429.7 L1600.8 1431.6 L1603.6 1433.5 L1606.4 1435.4 L1609.2 1437.2 L1612.0 1439.1 L1614.8 1440.9 L1617.5 1442.7 L1620.3 1444.6 L1623.1 1446.3 L1625.9 1448.1 L1628.7 1449.9 L1631.5 1451.6 L1634.3 1453.4 L1637.1 1455.1 L1639.9 1456.8 L1642.7 1458.5 L1645.5 1460.2 L1648.2 1461.8 L1651.0 1463.5 L1653.8 1465.1 L1656.6 1466.8 L1659.4 1468.4 L1662.2 1470.0 L1665.0 1471.5 L1667.8 1473.1 L1670.6 1474.7 L1673.4 1476.2 L1676.2 1477.7 L1678.9 1479.3 L1681.7 1480.8 L1684.5 1482.2 L1687.3 1483.7 L1690.1 1485.2 L1692.9 1486.6 L1695.7 1488.1 L1698.5 1489.5 L1701.3 1490.9 L1704.1 1492.3 L1706.8 1493.7 L1709.6 1495.0 L1712.4 1496.4 L1715.2 1497.7 L1718.0 1499.1 L1720.8 1500.4 L1723.6 1501.7 L1726.4 1503.0 L1729.2 1504.3 L1732.0 1505.5 L1734.8 1506.8 L1737.5 1508.0 L1740.3 1509.2 L1743.1 1510.5 L1745.9 1511.7 L1748.7 1512.8 L1751.5 1514.0 L1754.3 1515.2 L1757.1 1516.3 L1759.9 1517.5 L1762.7 1518.6 L1765.5 1519.7 L1768.2 1520.8 L1771.0 1521.9 L1773.8 1523.0 L1776.6 1524.1 L1779.4 1525.1 L1782.2 1526.2 L1785.0 1527.2 L1787.8 1528.3 L1790.6 1529.3 L1793.4 1530.3 L1796.2 1531.3 L1798.9 1532.3 L1801.7 1533.2 L1804.5 1534.2 L1807.3 1535.2 L1810.1 1536.1 L1812.9 1537.1 L1815.7 1538.0 L1818.5 1538.9 L1821.3 1539.8 L1824.1 1540.7 L1826.8 1541.6 L1829.6 1542.5 L1832.4 1543.4 L1835.2 1544.3 L1838.0 1545.1 L1840.8 1546.0 L1843.6 1546.9 L1846.4 1547.7 L1849.2 1548.5 L1852.0 1549.4 L1854.8 1550.2 L1857.5 1551.0 L1860.3 1551.8 L1863.1 1552.7 L1865.9 1553.5 L1868.7 1554.3 L1871.5 1555.1 L1874.3 1555.8 L1877.1 1556.6 L1879.9 1557.4 L1882.7 1558.2 L1885.5 1559.0 L1888.2 1559.7 L1891.0 1560.5 L1893.8 1561.3 L1896.6 1562.0 L1899.4 1562.8 L1902.2 1563.5 L1905.0 1564.3 L1907.8 1565.0 L1910.6 1565.8 L1913.4 1566.5 L1916.2 1567.2 L1918.9 1568.0 L1921.7 1568.7 L1924.5 1569.4 L1927.3 1570.2 L1930.1 1570.9 L1932.9 1571.6 L1935.7 1572.4 L1938.5 1573.1 L1941.3 1573.8 L1944.1 1574.6 L1946.8 1575.3 L1949.6 1576.0 L1952.4 1576.7 L1955.2 1577.5 L1958.0 1578.2 L1959.7 1578.6" stroke="#ffaaff" stroke-width="7.56"/>
<path d="M280.8 1636.0 L283.6 1622.0 L286.4 1608.1 L289.2 1594.3 L292.0 1580.5 L294.8 1566.8 L297.5 1553.2 L300.3 1539.6 L303.1 1526.1 L305.9 1512.7 L308.7 1499.4 L311.5 1486.1 L314.3 1472.9 L317.1 1459.8 L319.9 1446.7 L322.7 1433.7 L325.5 1420.8 L328.2 1407.9 L331.0 1395.2 L333.8 1382.5 L336.6 1369.8 L339.4 1357.3 L342.2 1344.8 L345.0 1332.4 L347.8 1320.0 L350.6 1307.8 L353.4 1295.6 L356.1 1283.4 L358.9 1271.4 L361.7 1259.4 L364.5 1247.5 L367.3 1235.6 L370.1 1223.9 L372.9 1212.2 L375.7 1200.6 L378.5 1189.0 L381.3 1177.6 L384.1 1166.2 L386.8 1154.8 L389.6 1143.6 L392.4 1132.4 L395.2 1121.3 L398.0 1110.3 L400.8 1099.3 L403.6 1088.4 L406.4 1077.6 L409.2 1066.9 L412.0 1056.2 L414.8 1045.6 L417.5 1035.1 L420.3 1024.7 L423.1 1014.3 L425.9 1004.0 L428.7 993.8 L431.5 983.6 L434.3 973.6 L437.1 963.6 L439.9 953.7 L442.7 943.8 L445.5 934.0 L448.2 924.3 L451.0 914.7 L453.8 905.2 L456.6 895.7 L459.4 886.3 L462.2 877.0 L465.0 867.8 L467.8 858.6 L470.6 849.5 L473.4 840.5 L476.1 831.5 L478.9 822.7 L481.7 813.9 L484.5 805.2 L487.3 796.5 L490.1 788.0 L492.9 779.5 L495.7 771.1 L498.5 762.8 L501.3 754.5 L504.1 746.3 L506.8 738.2 L509.6 730.2 L512.4 722.2 L515.2 714.4 L518.0 706.6 L520.8 698.9 L523.6 691.2 L526.4 683.7 L529.2 676.2 L532.0 668.8 L534.8 661.4 L537.5 654.2 L540.3 647.0 L543.1 639.9 L545.9 632.9 L548.7 626.0 L551.5 619.1 L554.3 612.3 L557.1 605.6 L559.9 599.0 L562.7 592.4 L565.5 586.0 L568.2 579.6 L571.0 573.3 L573.8 567.0 L576.6 560.9 L579.4 554.8 L582.2 548.8 L585.0 542.9 L587.8 537.0 L590.6 531.3 L593.4 525.6 L596.1 520.0 L598.9 514.5 L601.7 509.0 L604.5 503.6 L607.3 498.4 L610.1 493.1 L612.9 488.0 L615.7 483.0 L618.5 478.0 L621.3 473.1 L624.1 468.3 L626.8 463.6 L629.6 458.9 L632.4 454.4 L635.2 449.9 L638.0 445.5 L640.8 441.2 L643.6 436.9 L646.4 432.8 L649.2 428.7 L652.0 424.7 L654.8 420.8 L657.5 416.9 L660.3 413.2 L663.1 409.5 L665.9 405.9 L668.7 402.4 L671.5 399.0 L674.3 395.6 L677.1 392.3 L679.9 389.2 L682.7 386.0 L685.5 383.0 L688.2 380.1 L691.0 377.2 L693.8 374.5 L696.6 371.8 L699.4 369.1 L702.2 366.6 L705.0 364.2 L707.8 361.8 L710.6 359.5 L713.4 357.3 L716.1 355.2 L718.9 353.2 L721.7 351.2 L724.5 349.4 L727.3 347.6 L730.1 345.9 L732.9 344.3 L735.7 342.7 L738.5 341.3 L741.3 339.9 L744.1 338.6 L746.8 337.4 L749.6 336.3 L752.4 335.3 L755.2 334.3 L758.0 333.5 L760.8 332.7 L763.6 332.0 L766.4 331.4 L769.2 330.8 L772.0 330.4 L774.8 330.0 L777.5 329.7 L780.3 329.5 L783.1 329.4 L785.9 329.4 L788.7 329.4 L791.5 329.5 L794.3 329.7 L797.1 330.0 L799.9 330.3 L802.7 330.7 L805.5 331.2 L808.2 331.8 L811.0 332.5 L813.8 333.2 L816.6 334.0 L819.4 334.8 L822.2 335.8 L825.0 336.8 L827.8 337.8 L830.6 339.0 L833.4 340.2 L836.1 341.5 L838.9 342.8 L841.7 344.3 L844.5 345.7 L847.3 347.3 L850.1 348.9 L852.9 350.6 L855.7 352.3 L858.5 354.1 L861.3 356.0 L864.1 358.0 L866.8 360.0 L869.6 362.0 L872.4 364.1 L875.2 366.3 L878.0 368.5 L880.8 370.8 L883.6 373.2 L886.4 375.6 L889.2 378.1 L892.0 380.6 L894.8 383.2 L897.5 385.8 L900.3 388.5 L903.1 391.3 L905.9 394.1 L908.7 396.9 L911.5 399.8 L914.3 402.8 L917.1 405.8 L919.9 408.8 L922.7 411.9 L925.5 415.0 L928.2 418.2 L931.0 421.5 L933.8 424.7 L936.6 428.1 L939.4 431.4 L942.2 434.8 L945.0 438.3 L947.8 441.8 L950.6 445.3 L953.4 448.8 L956.1 452.5 L958.9 456.1 L961.7 459.8 L964.5 463.5 L967.3 467.2 L970.1 471.0 L972.9 474.8 L975.7 478.6 L978.5 482.5 L981.3 486.4 L984.1 490.3 L986.8 494.3 L989.6 498.3 L992.4 502.3 L995.2 506.4 L998.0 510.4 L1000.8 514.5 L1003.6 518.6 L1006.4 522.8 L1009.2 526.9 L1012.0 531.1 L1014.8 535.3 L1017.5 539.5 L1020.3 543.8 L1023.1 548.0 L1025.9 552.3 L1028.7 556.6 L1031.5 560.9 L1034.3 565.2 L1037.1 569.5 L1039.9 573.9 L1042.7 578.2 L1045.5 582.6 L1048.2 587.0 L1051.0 591.4 L1053.8 595.8 L1056.6 600.2 L1059.4 604.6 L1062.2 609.0 L1065.0 613.4 L1067.8 617.8 L1070.6 622.3 L1073.4 626.7 L1076.1 631.1 L1078.9 635.6 L1081.7 640.0 L1084.5 644.4 L1087.3 648.9 L1090.1 653.3 L1092.9 657.7 L1095.7 662.2 L1098.5 666.6 L1101.3 671.0 L1104.1 675.4 L1106.8 679.8 L1109.6 684.2 L1112.4 688.6 L1115.2 693.0 L1118.0 697.4 L1120.8 701.7 L1123.6 706.1 L1126.4 710.4 L1129.2 714.8 L1132.0 719.1 L1134.8 723.4 L1137.5 727.7 L1140.3 732.0 L1143.1 736.3 L1145.9 740.6 L1148.7 744.9 L1151.5 749.1 L1154.3 753.4 L1157.1 757.7 L1159.9 761.9 L1162.7 766.1 L1165.5 770.4 L1168.2 774.6 L1171.0 778.8 L1173.8 783.0 L1176.6 787.2 L1179.4 791.3 L1182.2 795.5 L1185.0 799.7 L1187.8 803.8 L1190.6 808.0 L1193.4 812.1 L1196.1 816.2 L1198.9 820.3 L1201.7 824.4 L1204.5 828.5 L1207.3 832.6 L1210.1 836.7 L1212.9 840.8 L1215.7 844.8 L1218.5 848.9 L1221.3 852.9 L1224.1 857.0 L1226.8 861.0 L1229.6 865.0 L1232.4 869.0 L1235.2 873.0 L1238.0 877.0 L1240.8 880.9 L1243.6 884.9 L1246.4 888.8 L1249.2 892.8 L1252.0 896.7 L1254.8 900.6 L1257.5 904.5 L1260.3 908.4 L1263.1 912.3 L1265.9 916.2 L1268.7 920.1 L1271.5 923.9 L1274.3 927.8 L1277.1 931.6 L1279.9 935.5 L1282.7 939.3 L1285.5 943.1 L1288.2 946.9 L1291.0 950.7 L1293.8 954.5 L1296.6 958.2 L1299.4 962.0 L1302.2 965.7 L1305.0 969.5 L1307.8 973.2 L1310.6 976.9 L1313.4 980.6 L1316.1 984.3 L1318.9 988.0 L1321.7 991.6 L1324.5 995.3 L1327.3 998.9 L1330.1 1002.6 L1332.9 1006.2 L1335.7 1009.8 L1338.5 1013.4 L1341.3 1017.0 L1344.1 1020.6 L1346.8 1024.2 L1349.6 1027.7 L1352.4 1031.3 L1355.2 1034.8 L1358.0 1038.3 L1360.8 1041.8 L1363.6 1045.3 L1366.4 1048.8 L1369.2 1052.3 L1372.0 1055.8 L1374.8 1059.2 L1377.5 1062.7 L1380.3 1066.1 L1383.1 1069.5 L1385.9 1072.9 L1388.7 1076.3 L1391.5 1079.7 L1394.3 1083.1 L1397.1 1086.4 L1399.9 1089.8 L1402.7 1093.1 L1405.5 1096.5 L1408.2 1099.8 L1411.0 1103.1 L1413.8 1106.4 L1416.6 1109.6 L1419.4 1112.9 L1422.2 1116.2 L1425.0 1119.4 L1427.8 1122.6 L1430.6 1125.8 L1433.4 1129.0 L1436.1 1132.2 L1438.9 1135.4 L1441.7 1138.6 L1444.5 1141.7 L1447.3 1144.9 L1450.1 1148.0 L1452.9 1151.1 L1455.7 1154.2 L1458.5 1157.3 L1461.3 1160.4 L1464.1 1163.4 L1466.8 1166.5 L1469.6 1169.5 L1472.4 1172.6 L1475.2 1175.6 L1478.0 1178.6 L1480.8 1181.6 L1483.6 1184.5 L1486.4 1187.5 L1489.2 1190.4 L1492.0 1193.4 L1494.8 1196.3 L1497.5 1199.2 L1500.3 1202.1 L1503.1 1205.0 L1505.9 1207.9 L1508.7 1210.7 L1511.5 1213.6 L1514.3 1216.4 L1517.1 1219.2 L1519.9 1222.0 L1522.7 1224.8 L1525.5 1227.6 L1528.2 1230.3 L1531.0 1233.1 L1533.8 1235.8 L1536.6 1238.5 L1539.4 1241.2 L1542.2 1243.9 L1545.0 1246.6 L1547.8 1249.3 L1550.6 1251.9 L1553.4 1254.6 L1556.1 1257.2 L1558.9 1259.8 L1561.7 1262.4 L1564.5 1265.0 L1567.3 1267.5 L1570.1 1270.1 L1572.9 1272.6 L1575.7 1275.1 L1578.5 1277.7 L1581.3 1280.1 L1584.1 1282.6 L1586.8 1285.1 L1589.6 1287.5 L1592.4 1290.0 L1595.2 1292.4 L1598.0 1294.8 L1600.8 1297.2 L1603.6 1299.6 L1606.4 1302.0 L1609.2 1304.3 L1612.0 1306.7 L1614.8 1309.0 L1617.5 1311.3 L1620.3 1313.6 L1623.1 1315.9 L1625.9 1318.2 L1628.7 1320.4 L1631.5 1322.7 L1634.3 1324.9 L1637.1 1327.1 L1639.9 1329.3 L1642.7 1331.5 L1645.5 1333.7 L1648.2 1335.9 L1651.0 1338.1 L1653.8 1340.2 L1656.6 1342.3 L1659.4 1344.5 L1662.2 1346.6 L1665.0 1348.7 L1667.8 1350.7 L1670.6 1352.8 L1673.4 1354.9 L1676.2 1356.9 L1678.9 1358.9 L1681.7 1361.0 L1684.5 1363.0 L1687.3 1365.0 L1690.1 1366.9 L1692.9 1368.9 L1695.7 1370.9 L1698.5 1372.8 L1701.3 1374.8 L1704.1 1376.7 L1706.8 1378.6 L1709.6 1380.5 L1712.4 1382.4 L1715.2 1384.3 L1718.0 1386.2 L1720.8 1388.0 L1723.6 1389.9 L1726.4 1391.7 L1729.2 1393.5 L1732.0 1395.3 L1734.8 1397.1 L1737.5 1398.9 L1740.3 1400.7 L1743.1 1402.5 L1745.9 1404.2 L1748.7 1406.0 L1751.5 1407.7 L1754.3 1409.5 L1757.1 1411.2 L1759.9 1412.9 L1762.7 1414.6 L1765.5 1416.3 L1768.2 1418.0 L1771.0 1419.6 L1773.8 1421.3 L1776.6 1422.9 L1779.4 1424.6 L1782.2 1426.2 L1785.0 1427.8 L1787.8 1429.4 L1790.6 1431.0 L1793.4 1432.6 L1796.2 1434.2 L1798.9 1435.8 L1801.7 1437.3 L1804.5 1438.9 L1807.3 1440.4 L1810.1 1442.0 L1812.9 1443.5 L1815.7 1445.0 L1818.5 1446.5 L1821.3 1448.0 L1824.1 1449.5 L1826.8 1451.0 L1829.6 1452.4 L1832.4 1453.9 L1835.2 1455.4 L1838.0 1456.8 L1840.8 1458.2 L1843.6 1459.7 L1846.4 1461.1 L1849.2 1462.5 L1852.0 1463.9 L1854.8 1465.3 L1857.5 1466.7 L1860.3 1468.1 L1863.1 1469.4 L1865.9 1470.8 L1868.7 1472.1 L1871.5 1473.5 L1874.3 1474.8 L1877.1 1476.2 L1879.9 1477.5 L1882.7 1478.8 L1885.5 1480.1 L1888.2 1481.4 L1891.0 1482.7 L1893.8 1484.0 L1896.6 1485.3 L1899.4 1486.6 L1902.2 1487.8 L1905.0 1489.1 L1907.8 1490.3 L1910.6 1491.6 L1913.4 1492.8 L1916.2 1494.1 L1918.9 1495.3 L1921.7 1496.5 L1924.5 1497.7 L1927.3 1498.9 L1930.1 1500.1 L1932.9 1501.3 L1935.7 1502.5 L1938.5 1503.7 L1941.3 1504.8 L1944.1 1506.0 L1946.8 1507.2 L1949.6 1508.3 L1952.4 1509.5 L1955.2 1510.6 L1958.0 1511.8 L1959.7 1512.4" stroke="#00ffff" stroke-width="9.26"/>
<path d="M280.8 1636.0 L283.6 1624.8 L286.4 1613.7 L289.2 1602.6 L292.0 1591.5 L294.8 1580.5 L297.5 1569.6 L300.3 1558.6 L303.1 1547.8 L305.9 1537.0 L308.7 1526.2 L311.5 1515.5 L314.3 1504.8 L317.1 1494.2 L319.9 1483.6 L322.7 1473.0 L325.5 1462.5 L328.2 1452.1 L331.0 1441.7 L333.8 1431.3 L336.6 1421.0 L339.4 1410.7 L342.2 1400.5 L345.0 1390.3 L347.8 1380.2 L350.6 1370.1 L353.4 1360.1 L356.1 1350.1 L358.9 1340.2 L361.7 1330.3 L364.5 1320.4 L367.3 1310.6 L370.1 1300.8 L372.9 1291.1 L375.7 1281.4 L378.5 1271.8 L381.3 1262.2 L384.1 1252.7 L386.8 1243.2 L389.6 1233.8 L392.4 1224.4 L395.2 1215.0 L398.0 1205.7 L400.8 1196.5 L403.6 1187.2 L406.4 1178.1 L409.2 1169.0 L412.0 1159.9 L414.8 1150.8 L417.5 1141.9 L420.3 1132.9 L423.1 1124.0 L425.9 1115.2 L428.7 1106.4 L431.5 1097.6 L434.3 1088.9 L437.1 1080.2 L439.9 1071.6 L442.7 1063.0 L445.5 1054.5 L448.2 1046.0 L451.0 1037.6 L453.8 1029.2 L456.6 1020.8 L459.4 1012.5 L462.2 1004.2 L465.0 996.0 L467.8 987.8 L470.6 979.7 L473.4 971.6 L476.1 963.6 L478.9 955.6 L481.7 947.7 L484.5 939.8 L487.3 931.9 L490.1 924.1 L492.9 916.3 L495.7 908.6 L498.5 900.9 L501.3 893.3 L504.1 885.7 L506.8 878.2 L509.6 870.7 L512.4 863.2 L515.2 855.8 L518.0 848.5 L520.8 841.1 L523.6 833.9 L526.4 826.6 L529.2 819.5 L532.0 812.3 L534.8 805.2 L537.5 798.2 L540.3 791.2 L543.1 784.2 L545.9 777.3 L548.7 770.4 L551.5 763.6 L554.3 756.8 L557.1 750.1 L559.9 743.4 L562.7 736.8 L565.5 730.2 L568.2 723.7 L571.0 717.2 L573.8 710.7 L576.6 704.3 L579.4 698.0 L582.2 691.7 L585.0 685.4 L587.8 679.2 L590.6 673.1 L593.4 667.0 L596.1 660.9 L598.9 655.0 L601.7 649.0 L604.5 643.1 L607.3 637.3 L610.1 631.5 L612.9 625.7 L615.7 620.1 L618.5 614.4 L621.3 608.8 L624.1 603.3 L626.8 597.8 L629.6 592.4 L632.4 587.1 L635.2 581.7 L638.0 576.5 L640.8 571.3 L643.6 566.1 L646.4 561.1 L649.2 556.0 L652.0 551.0 L654.8 546.1 L657.5 541.3 L660.3 536.4 L663.1 531.7 L665.9 527.0 L668.7 522.4 L671.5 517.8 L674.3 513.3 L677.1 508.8 L679.9 504.4 L682.7 500.1 L685.5 495.8 L688.2 491.6 L691.0 487.4 L693.8 483.3 L696.6 479.3 L699.4 475.3 L702.2 471.4 L705.0 467.5 L707.8 463.7 L710.6 460.0 L713.4 456.3 L716.1 452.7 L718.9 449.2 L721.7 445.7 L724.5 442.3 L727.3 438.9 L730.1 435.6 L732.9 432.4 L735.7 429.2 L738.5 426.1 L741.3 423.1 L744.1 420.2 L746.8 417.3 L749.6 414.4 L752.4 411.7 L755.2 409.0 L758.0 406.3 L760.8 403.8 L763.6 401.3 L766.4 398.8 L769.2 396.5 L772.0 394.2 L774.8 392.0 L777.5 389.8 L780.3 387.7 L783.1 385.7 L785.9 383.8 L788.7 381.9 L791.5 380.1 L794.3 378.3 L797.1 376.7 L799.9 375.1 L802.7 373.6 L805.5 372.1 L808.2 370.7 L811.0 369.4 L813.8 368.2 L816.6 367.0 L819.4 365.9 L822.2 364.9 L825.0 363.9 L827.8 363.0 L830.6 362.2 L833.4 361.4 L836.1 360.7 L838.9 360.1 L841.7 359.5 L844.5 359.0 L847.3 358.6 L850.1 358.3 L852.9 358.0 L855.7 357.8 L858.5 357.6 L861.3 357.5 L864.1 357.5 L866.8 357.6 L869.6 357.7 L872.4 357.9 L875.2 358.1 L878.0 358.4 L880.8 358.8 L883.6 359.3 L886.4 359.8 L889.2 360.4 L892.0 361.0 L894.8 361.7 L897.5 362.5 L900.3 363.3 L903.1 364.2 L905.9 365.2 L908.7 366.3 L911.5 367.4 L914.3 368.5 L917.1 369.7 L919.9 371.0 L922.7 372.4 L925.5 373.8 L928.2 375.3 L931.0 376.8 L933.8 378.4 L936.6 380.0 L939.4 381.8 L942.2 383.5 L945.0 385.3 L947.8 387.2 L950.6 389.2 L953.4 391.1 L956.1 393.2 L958.9 395.3 L961.7 397.4 L964.5 399.6 L967.3 401.9 L970.1 404.2 L972.9 406.5 L975.7 408.9 L978.5 411.4 L981.3 413.8 L984.1 416.4 L986.8 419.0 L989.6 421.6 L992.4 424.3 L995.2 427.0 L998.0 429.8 L1000.8 432.6 L1003.6 435.4 L1006.4 438.3 L1009.2 441.2 L1012.0 444.2 L1014.8 447.2 L1017.5 450.3 L1020.3 453.3 L1023.1 456.5 L1025.9 459.6 L1028.7 462.8 L1031.5 466.0 L1034.3 469.3 L1037.1 472.6 L1039.9 475.9 L1042.7 479.2 L1045.5 482.6 L1048.2 485.9 L1051.0 489.4 L1053.8 492.8 L1056.6 496.3 L1059.4 499.7 L1062.2 503.2 L1065.0 506.7 L1067.8 510.3 L1070.6 513.8 L1073.4 517.4 L1076.1 521.0 L1078.9 524.6 L1081.7 528.2 L1084.5 531.8 L1087.3 535.4 L1090.1 539.0 L1092.9 542.7 L1095.7 546.3 L1098.5 549.9 L1101.3 553.6 L1104.1 557.3 L1106.8 560.9 L1109.6 564.6 L1112.4 568.2 L1115.2 571.9 L1118.0 575.6 L1120.8 579.2 L1123.6 582.9 L1126.4 586.6 L1129.2 590.2 L1132.0 593.9 L1134.8 597.6 L1137.5 601.2 L1140.3 604.9 L1143.1 608.6 L1145.9 612.3 L1148.7 615.9 L1151.5 619.6 L1154.3 623.3 L1157.1 626.9 L1159.9 630.6 L1162.7 634.3 L1165.5 637.9 L1168.2 641.6 L1171.0 645.2 L1173.8 648.9 L1176.6 652.5 L1179.4 656.2 L1182.2 659.8 L1185.0 663.4 L1187.8 667.1 L1190.6 670.7 L1193.4 674.3 L1196.1 678.0 L1198.9 681.6 L1201.7 685.2 L1204.5 688.8 L1207.3 692.4 L1210.1 696.0 L1212.9 699.6 L1215.7 703.1 L1218.5 706.7 L1221.3 710.3 L1224.1 713.8 L1226.8 717.4 L1229.6 720.9 L1232.4 724.4 L1235.2 728.0 L1238.0 731.5 L1240.8 735.0 L1243.6 738.5 L1246.4 742.0 L1249.2 745.5 L1252.0 748.9 L1254.8 752.4 L1257.5 755.8 L1260.3 759.3 L1263.1 762.7 L1265.9 766.1 L1268.7 769.5 L1271.5 772.9 L1274.3 776.3 L1277.1 779.7 L1279.9 783.0 L1282.7 786.4 L1285.5 789.7 L1288.2 793.0 L1291.0 796.3 L1293.8 799.6 L1296.6 802.9 L1299.4 806.2 L1302.2 809.4 L1305.0 812.7 L1307.8 815.9 L1310.6 819.1 L1313.4 822.3 L1316.1 825.5 L1318.9 828.6 L1321.7 831.8 L1324.5 835.0 L1327.3 838.1 L1330.1 841.2 L1332.9 844.3 L1335.7 847.4 L1338.5 850.5 L1341.3 853.6 L1344.1 856.6 L1346.8 859.7 L1349.6 862.7 L1352.4 865.7 L1355.2 868.7 L1358.0 871.7 L1360.8 874.7 L1363.6 877.7 L1366.4 880.7 L1369.2 883.6 L1372.0 886.6 L1374.8 889.5 L1377.5 892.4 L1380.3 895.3 L1383.1 898.2 L1385.9 901.1 L1388.7 904.0 L1391.5 906.8 L1394.3 909.7 L1397.1 912.5 L1399.9 915.4 L1402.7 918.2 L1405.5 921.0 L1408.2 923.8 L1411.0 926.6 L1413.8 929.3 L1416.6 932.1 L1419.4 934.9 L1422.2 937.6 L1425.0 940.4 L1427.8 943.1 L1430.6 945.8 L1433.4 948.5 L1436.1 951.2 L1438.9 953.9 L1441.7 956.6 L1444.5 959.3 L1447.3 961.9 L1450.1 964.6 L1452.9 967.2 L1455.7 969.9 L1458.5 972.5 L1461.3 975.1 L1464.1 977.7 L1466.8 980.3 L1469.6 982.9 L1472.4 985.5 L1475.2 988.1 L1478.0 990.6 L1480.8 993.2 L1483.6 995.7 L1486.4 998.3 L1489.2 1000.8 L1492.0 1003.4 L1494.8 1005.9 L1497.5 1008.4 L1500.3 1010.9 L1503.1 1013.4 L1505.9 1015.9 L1508.7 1018.4 L1511.5 1020.8 L1514.3 1023.3 L1517.1 1025.8 L1519.9 1028.2 L1522.7 1030.7 L1525.5 1033.1 L1528.2 1035.5 L1531.0 1038.0 L1533.8 1040.4 L1536.6 1042.8 L1539.4 1045.2 L1542.2 1047.6 L1545.0 1050.0 L1547.8 1052.4 L1550.6 1054.8 L1553.4 1057.1 L1556.1 1059.5 L1558.9 1061.9 L1561.7 1064.2 L1564.5 1066.6 L1567.3 1068.9 L1570.1 1071.2 L1572.9 1073.6 L1575.7 1075.9 L1578.5 1078.2 L1581.3 1080.5 L1584.1 1082.8 L1586.8 1085.1 L1589.6 1087.4 L1592.4 1089.7 L1595.2 1091.9 L1598.0 1094.2 L1600.8 1096.5 L1603.6 1098.7 L1606.4 1101.0 L1609.2 1103.2 L1612.0 1105.5 L1614.8 1107.7 L1617.5 1109.9 L1620.3 1112.1 L1623.1 1114.3 L1625.9 1116.5 L1628.7 1118.7 L1631.5 1120.9 L1634.3 1123.1 L1637.1 1125.3 L1639.9 1127.4 L1642.7 1129.6 L1645.5 1131.8 L1648.2 1133.9 L1651.0 1136.1 L1653.8 1138.2 L1656.6 1140.3 L1659.4 1142.5 L1662.2 1144.6 L1665.0 1146.7 L1667.8 1148.8 L1670.6 1150.9 L1673.4 1153.0 L1676.2 1155.1 L1678.9 1157.1 L1681.7 1159.2 L1684.5 1161.3 L1687.3 1163.3 L1690.1 1165.4 L1692.9 1167.4 L1695.7 1169.5 L1698.5 1171.5 L1701.3 1173.5 L1704.1 1175.6 L1706.8 1177.6 L1709.6 1179.6 L1712.4 1181.6 L1715.2 1183.6 L1718.0 1185.6 L1720.8 1187.5 L1723.6 1189.5 L1726.4 1191.5 L1729.2 1193.4 L1732.0 1195.4 L1734.8 1197.4 L1737.5 1199.3 L1740.3 1201.2 L1743.1 1203.2 L1745.9 1205.1 L1748.7 1207.0 L1751.5 1208.9 L1754.3 1210.8 L1757.1 1212.7 L1759.9 1214.6 L1762.7 1216.5 L1765.5 1218.4 L1768.2 1220.2 L1771.0 1222.1 L1773.8 1223.9 L1776.6 1225.8 L1779.4 1227.6 L1782.2 1229.5 L1785.0 1231.3 L1787.8 1233.1 L1790.6 1235.0 L1793.4 1236.8 L1796.2 1238.6 L1798.9 1240.4 L1801.7 1242.2 L1804.5 1244.0 L1807.3 1245.7 L1810.1 1247.5 L1812.9 1249.3 L1815.7 1251.0 L1818.5 1252.8 L1821.3 1254.5 L1824.1 1256.3 L1826.8 1258.0 L1829.6 1259.7 L1832.4 1261.5 L1835.2 1263.2 L1838.0 1264.9 L1840.8 1266.6 L1843.6 1268.3 L1846.4 1270.0 L1849.2 1271.7 L1852.0 1273.3 L1854.8 1275.0 L1857.5 1276.7 L1860.3 1278.3 L1863.1 1280.0 L1865.9 1281.6 L1868.7 1283.2 L1871.5 1284.9 L1874.3 1286.5 L1877.1 1288.1 L1879.9 1289.7 L1882.7 1291.3 L1885.5 1292.9 L1888.2 1294.5 L1891.0 1296.1 L1893.8 1297.7 L1896.6 1299.3 L1899.4 1300.8 L1902.2 1302.4 L1905.0 1304.0 L1907.8 1305.5 L1910.6 1307.0 L1913.4 1308.6 L1916.2 1310.1 L1918.9 1311.6 L1921.7 1313.1 L1924.5 1314.7 L1927.3 1316.2 L1930.1 1317.7 L1932.9 1319.1 L1935.7 1320.6 L1938.5 1322.1 L1941.3 1323.6 L1944.1 1325.0 L1946.8 1326.5 L1949.6 1327.9 L1952.4 1329.4 L1955.2 1330.8 L1958.0 1332.3 L1959.7 1333.1" stroke="#ff8000" stroke-width="8.03"/>
<path d="M280.8 1636.0 L283.6 1626.5 L286.4 1617.1 L289.2 1607.7 L292.0 1598.3 L294.8 1589.0 L297.5 1579.7 L300.3 1570.4 L303.1 1561.2 L305.9 1552.0 L308.7 1542.8 L311.5 1533.7 L314.3 1524.6 L317.1 1515.6 L319.9 1506.5 L322.7 1497.6 L325.5 1488.6 L328.2 1479.7 L331.0 1470.8 L333.8 1461.9 L336.6 1453.1 L339.4 1444.3 L342.2 1435.6 L345.0 1426.8 L347.8 1418.2 L350.6 1409.5 L353.4 1400.9 L356.1 1392.3 L358.9 1383.7 L361.7 1375.2 L364.5 1366.7 L367.3 1358.3 L370.1 1349.9 L372.9 1341.5 L375.7 1333.1 L378.5 1324.8 L381.3 1316.5 L384.1 1308.2 L386.8 1300.0 L389.6 1291.8 L392.4 1283.7 L395.2 1275.6 L398.0 1267.5 L400.8 1259.4 L403.6 1251.4 L406.4 1243.4 L409.2 1235.4 L412.0 1227.5 L414.8 1219.6 L417.5 1211.7 L420.3 1203.9 L423.1 1196.1 L425.9 1188.3 L428.7 1180.6 L431.5 1172.9 L434.3 1165.2 L437.1 1157.6 L439.9 1150.0 L442.7 1142.4 L445.5 1134.9 L448.2 1127.3 L451.0 1119.9 L453.8 1112.4 L456.6 1105.0 L459.4 1097.6 L462.2 1090.3 L465.0 1082.9 L467.8 1075.6 L470.6 1068.4 L473.4 1061.2 L476.1 1054.0 L478.9 1046.8 L481.7 1039.7 L484.5 1032.6 L487.3 1025.5 L490.1 1018.5 L492.9 1011.5 L495.7 1004.5 L498.5 997.5 L501.3 990.6 L504.1 983.7 L506.8 976.9 L509.6 970.1 L512.4 963.3 L515.2 956.5 L518.0 949.8 L520.8 943.1 L523.6 936.4 L526.4 929.8 L529.2 923.2 L532.0 916.6 L534.8 910.1 L537.5 903.6 L540.3 897.1 L543.1 890.6 L545.9 884.2 L548.7 877.8 L551.5 871.5 L554.3 865.1 L557.1 858.8 L559.9 852.6 L562.7 846.3 L565.5 840.2 L568.2 834.0 L571.0 827.9 L573.8 821.8 L576.6 815.7 L579.4 809.7 L582.2 803.7 L585.0 797.7 L587.8 791.8 L590.6 785.9 L593.4 780.0 L596.1 774.2 L598.9 768.4 L601.7 762.6 L604.5 756.9 L607.3 751.2 L610.1 745.6 L612.9 740.0 L615.7 734.4 L618.5 728.8 L621.3 723.3 L624.1 717.8 L626.8 712.4 L629.6 707.0 L632.4 701.6 L635.2 696.3 L638.0 691.0 L640.8 685.8 L643.6 680.6 L646.4 675.4 L649.2 670.2 L652.0 665.1 L654.8 660.1 L657.5 655.0 L660.3 650.1 L663.1 645.1 L665.9 640.2 L668.7 635.3 L671.5 630.5 L674.3 625.7 L677.1 621.0 L679.9 616.3 L682.7 611.6 L685.5 607.0 L688.2 602.5 L691.0 597.9 L693.8 593.4 L696.6 589.0 L699.4 584.6 L702.2 580.3 L705.0 576.0 L707.8 571.7 L710.6 567.5 L713.4 563.3 L716.1 559.2 L718.9 555.2 L721.7 551.1 L724.5 547.2 L727.3 543.2 L730.1 539.4 L732.9 535.5 L735.7 531.8 L738.5 528.1 L741.3 524.4 L744.1 520.8 L746.8 517.2 L749.6 513.7 L752.4 510.2 L755.2 506.8 L758.0 503.5 L760.8 500.1 L763.6 496.9 L766.4 493.7 L769.2 490.6 L772.0 487.5 L774.8 484.5 L777.5 481.5 L780.3 478.6 L783.1 475.7 L785.9 472.9 L788.7 470.2 L791.5 467.5 L794.3 464.8 L797.1 462.3 L799.9 459.8 L802.7 457.3 L805.5 454.9 L808.2 452.6 L811.0 450.3 L813.8 448.1 L816.6 446.0 L819.4 443.9 L822.2 441.9 L825.0 439.9 L827.8 438.0 L830.6 436.2 L833.4 434.4 L836.1 432.7 L838.9 431.1 L841.7 429.5 L844.5 428.0 L847.3 426.5 L850.1 425.2 L852.9 423.8 L855.7 422.6 L858.5 421.4 L861.3 420.2 L864.1 419.2 L866.8 418.2 L869.6 417.2 L872.4 416.3 L875.2 415.5 L878.0 414.7 L880.8 414.0 L883.6 413.4 L886.4 412.8 L889.2 412.3 L892.0 411.9 L894.8 411.5 L897.5 411.2 L900.3 410.9 L903.1 410.8 L905.9 410.6 L908.7 410.6 L911.5 410.6 L914.3 410.6 L917.1 410.7 L919.9 410.9 L922.7 411.2 L925.5 411.5 L928.2 411.9 L931.0 412.3 L933.8 412.8 L936.6 413.4 L939.4 414.0 L942.2 414.7 L945.0 415.4 L947.8 416.2 L950.6 417.1 L953.4 418.0 L956.1 419.0 L958.9 420.1 L961.7 421.2 L964.5 422.4 L967.3 423.6 L970.1 424.9 L972.9 426.2 L975.7 427.6 L978.5 429.0 L981.3 430.5 L984.1 432.1 L986.8 433.6 L989.6 435.3 L992.4 437.0 L995.2 438.7 L998.0 440.5 L1000.8 442.4 L1003.6 444.3 L1006.4 446.2 L1009.2 448.2 L1012.0 450.2 L1014.8 452.3 L1017.5 454.4 L1020.3 456.6 L1023.1 458.8 L1025.9 461.0 L1028.7 463.3 L1031.5 465.6 L1034.3 468.0 L1037.1 470.4 L1039.9 472.8 L1042.7 475.3 L1045.5 477.8 L1048.2 480.3 L1051.0 482.9 L1053.8 485.5 L1056.6 488.2 L1059.4 490.9 L1062.2 493.6 L1065.0 496.3 L1067.8 499.1 L1070.6 501.9 L1073.4 504.8 L1076.1 507.6 L1078.9 510.5 L1081.7 513.4 L1084.5 516.4 L1087.3 519.4 L1090.1 522.4 L1092.9 525.4 L1095.7 528.4 L1098.5 531.5 L1101.3 534.6 L1104.1 537.7 L1106.8 540.9 L1109.6 544.0 L1112.4 547.2 L1115.2 550.4 L1118.0 553.6 L1120.8 556.8 L1123.6 560.1 L1126.4 563.3 L1129.2 566.6 L1132.0 569.9 L1134.8 573.2 L1137.5 576.5 L1140.3 579.8 L1143.1 583.2 L1145.9 586.5 L1148.7 589.9 L1151.5 593.3 L1154.3 596.7 L1157.1 600.1 L1159.9 603.5 L1162.7 606.9 L1165.5 610.3 L1168.2 613.7 L1171.0 617.2 L1173.8 620.6 L1176.6 624.1 L1179.4 627.5 L1182.2 631.0 L1185.0 634.4 L1187.8 637.9 L1190.6 641.3 L1193.4 644.8 L1196.1 648.3 L1198.9 651.7 L1201.7 655.2 L1204.5 658.6 L1207.3 662.1 L1210.1 665.5 L1212.9 669.0 L1215.7 672.4 L1218.5 675.9 L1221.3 679.3 L1224.1 682.7 L1226.8 686.2 L1229.6 689.6 L1232.4 693.0 L1235.2 696.4 L1238.0 699.8 L1240.8 703.2 L1243.6 706.6 L1246.4 710.0 L1249.2 713.3 L1252.0 716.7 L1254.8 720.1 L1257.5 723.4 L1260.3 726.8 L1263.1 730.1 L1265.9 733.4 L1268.7 736.8 L1271.5 740.1 L1274.3 743.4 L1277.1 746.7 L1279.9 750.0 L1282.7 753.3 L1285.5 756.6 L1288.2 759.8 L1291.0 763.1 L1293.8 766.4 L1296.6 769.6 L1299.4 772.9 L1302.2 776.1 L1305.0 779.3 L1307.8 782.5 L1310.6 785.8 L1313.4 789.0 L1316.1 792.1 L1318.9 795.3 L1321.7 798.5 L1324.5 801.7 L1327.3 804.8 L1330.1 808.0 L1332.9 811.1 L1335.7 814.2 L1338.5 817.4 L1341.3 820.5 L1344.1 823.6 L1346.8 826.7 L1349.6 829.8 L1352.4 832.8 L1355.2 835.9 L1358.0 838.9 L1360.8 842.0 L1363.6 845.0 L1366.4 848.0 L1369.2 851.1 L1372.0 854.1 L1374.8 857.0 L1377.5 860.0 L1380.3 863.0 L1383.1 866.0 L1385.9 868.9 L1388.7 871.8 L1391.5 874.8 L1394.3 877.7 L1397.1 880.6 L1399.9 883.5 L1402.7 886.4 L1405.5 889.2 L1408.2 892.1 L1411.0 895.0 L1413.8 897.8 L1416.6 900.6 L1419.4 903.4 L1422.2 906.2 L1425.0 909.0 L1427.8 911.8 L1430.6 914.6 L1433.4 917.3 L1436.1 920.1 L1438.9 922.8 L1441.7 925.5 L1444.5 928.2 L1447.3 930.9 L1450.1 933.6 L1452.9 936.2 L1455.7 938.9 L1458.5 941.5 L1461.3 944.2 L1464.1 946.8 L1466.8 949.4 L1469.6 952.0 L1472.4 954.6 L1475.2 957.2 L1478.0 959.7 L1480.8 962.3 L1483.6 964.8 L1486.4 967.3 L1489.2 969.9 L1492.0 972.4 L1494.8 974.9 L1497.5 977.3 L1500.3 979.8 L1503.1 982.3 L1505.9 984.7 L1508.7 987.2 L1511.5 989.6 L1514.3 992.0 L1517.1 994.4 L1519.9 996.8 L1522.7 999.2 L1525.5 1001.6 L1528.2 1004.0 L1531.0 1006.3 L1533.8 1008.7 L1536.6 1011.0 L1539.4 1013.3 L1542.2 1015.6 L1545.0 1017.9 L1547.8 1020.2 L1550.6 1022.5 L1553.4 1024.8 L1556.1 1027.1 L1558.9 1029.3 L1561.7 1031.6 L1564.5 1033.8 L1567.3 1036.0 L1570.1 1038.3 L1572.9 1040.5 L1575.7 1042.7 L1578.5 1044.9 L1581.3 1047.1 L1584.1 1049.2 L1586.8 1051.4 L1589.6 1053.6 L1592.4 1055.7 L1595.2 1057.8 L1598.0 1060.0 L1600.8 1062.1 L1603.6 1064.2 L1606.4 1066.3 L1609.2 1068.4 L1612.0 1070.5 L1614.8 1072.6 L1617.5 1074.6 L1620.3 1076.7 L1623.1 1078.8 L1625.9 1080.8 L1628.7 1082.8 L1631.5 1084.9 L1634.3 1086.9 L1637.1 1088.9 L1639.9 1090.9 L1642.7 1092.9 L1645.5 1094.9 L1648.2 1096.9 L1651.0 1098.9 L1653.8 1100.9 L1656.6 1102.8 L1659.4 1104.8 L1662.2 1106.7 L1665.0 1108.7 L1667.8 1110.6 L1670.6 1112.5 L1673.4 1114.4 L1676.2 1116.4 L1678.9 1118.3 L1681.7 1120.2 L1684.5 1122.1 L1687.3 1123.9 L1690.1 1125.8 L1692.9 1127.7 L1695.7 1129.6 L1698.5 1131.4 L1701.3 1133.3 L1704.1 1135.1 L1706.8 1137.0 L1709.6 1138.8 L1712.4 1140.6 L1715.2 1142.4 L1718.0 1144.3 L1720.8 1146.1 L1723.6 1147.9 L1726.4 1149.7 L1729.2 1151.5 L1732.0 1153.3 L1734.8 1155.1 L1737.5 1156.8 L1740.3 1158.6 L1743.1 1160.4 L1745.9 1162.1 L1748.7 1163.9 L1751.5 1165.6 L1754.3 1167.4 L1757.1 1169.1 L1759.9 1170.9 L1762.7 1172.6 L1765.5 1174.3 L1768.2 1176.0 L1771.0 1177.8 L1773.8 1179.5 L1776.6 1181.2 L1779.4 1182.9 L1782.2 1184.6 L1785.0 1186.3 L1787.8 1188.0 L1790.6 1189.6 L1793.4 1191.3 L1796.2 1193.0 L1798.9 1194.7 L1801.7 1196.4 L1804.5 1198.0 L1807.3 1199.7 L1810.1 1201.3 L1812.9 1203.0 L1815.7 1204.6 L1818.5 1206.3 L1821.3 1207.9 L1824.1 1209.6 L1826.8 1211.2 L1829.6 1212.8 L1832.4 1214.5 L1835.2 1216.1 L1838.0 1217.7 L1840.8 1219.3 L1843.6 1221.0 L1846.4 1222.6 L1849.2 1224.2 L1852.0 1225.8 L1854.8 1227.4 L1857.5 1229.0 L1860.3 1230.6 L1863.1 1232.2 L1865.9 1233.8 L1868.7 1235.4 L1871.5 1237.0 L1874.3 1238.6 L1877.1 1240.2 L1879.9 1241.7 L1882.7 1243.3 L1885.5 1244.9 L1888.2 1246.5 L1891.0 1248.0 L1893.8 1249.6 L1896.6 1251.2 L1899.4 1252.8 L1902.2 1254.3 L1905.0 1255.9 L1907.8 1257.5 L1910.6 1259.0 L1913.4 1260.6 L1916.2 1262.1 L1918.9 1263.7 L1921.7 1265.3 L1924.5 1266.8 L1927.3 1268.4 L1930.1 1269.9 L1932.9 1271.5 L1935.7 1273.0 L1938.5 1274.6 L1941.3 1276.1 L1944.1 1277.7 L1946.8 1279.2 L1949.6 1280.8 L1952.4 1282.3 L1955.2 1283.9 L1958.0 1285.4 L1959.7 1286.4" stroke="#4e4e4e" stroke-width="7.56"/>
</g>
<g fill="none">
<path d="M335.6 1635.8v-10.8M335.6 82.4v10.8" stroke="#262626" stroke-width="3.0"/>
<path d="M391.4 1635.8v-10.8M391.4 82.4v10.8" stroke="rgba(0,0,0,0.5)" stroke-width="3.0"/>
<path d="M447.2 1635.8v-10.8M447.2 82.4v10.8" stroke="#262626" stroke-width="3.0"/>
<path d="M503.1 1635.8v-10.8M503.1 82.4v10.8" stroke="rgba(0,0,0,0.5)" stroke-width="3.0"/>
<path d="M559.9 1635.8v-27.8M559.9 82.4v27.8" stroke="#000" stroke-width="7.8"/>
<path d="M614.7 1635.8v-10.8M614.7 82.4v10.8" stroke="rgba(0,0,0,0.5)" stroke-width="3.0"/>
<path d="M670.5 1635.8v-10.8M670.5 82.4v10.8" stroke="#262626" stroke-width="3.0"/>
<path d="M726.3 1635.8v-10.8M726.3 82.4v10.8" stroke="rgba(0,0,0,0.5)" stroke-width="3.0"/>
<path d="M782.1 1635.8v-10.8M782.1 82.4v10.8" stroke="#262626" stroke-width="3.0"/>
<path d="M838.9 1635.8v-27.8M838.9 82.4v27.8" stroke="#000" stroke-width="7.8"/>
<path d="M893.8 1635.8v-10.8M893.8 82.4v10.8" stroke="#262626" stroke-width="3.0"/>
<path d="M949.6 1635.8v-10.8M949.6 82.4v10.8" stroke="rgba(0,0,0,0.5)" stroke-width="3.0"/>
<path d="M1005.4 1635.8v-10.8M1005.4 82.4v10.8" stroke="#262626" stroke-width="3.0"/>
<path d="M1061.2 1635.8v-10.8M1061.2 82.4v10.8" stroke="rgba(0,0,0,0.5)" stroke-width="3.0"/>
<path d="M1118.0 1635.8v-27.8M1118.0 82.4v27.8" stroke="#000" stroke-width="7.8"/>
<path d="M1172.8 1635.8v-10.8M1172.8 82.4v10.8" stroke="rgba(0,0,0,0.5)" stroke-width="3.0"/>
<path d="M1228.6 1635.8v-10.8M1228.6 82.4v10.8" stroke="#262626" stroke-width="3.0"/>
<path d="M1284.5 1635.8v-10.8M1284.5 82.4v10.8" stroke="rgba(0,0,0,0.5)" stroke-width="3.0"/>
<path d="M1340.3 1635.8v-10.8M1340.3 82.4v10.8" stroke="#262626" stroke-width="3.0"/>
<path d="M1397.1 1635.8v-27.8M1397.1 82.4v27.8" stroke="#000" stroke-width="7.8"/>
<path d="M1451.9 1635.8v-10.8M1451.9 82.4v10.8" stroke="#262626" stroke-width="3.0"/>
<path d="M1507.7 1635.8v-10.8M1507.7 82.4v10.8" stroke="rgba(0,0,0,0.5)" stroke-width="3.0"/>
<path d="M1563.5 1635.8v-10.8M1563.5 82.4v10.8" stroke="#262626" stroke-width="3.0"/>
<path d="M1619.3 1635.8v-10.8M1619.3 82.4v10.8" stroke="rgba(0,0,0,0.5)" stroke-width="3.0"/>
<path d="M1676.2 1635.8v-27.8M1676.2 82.4v27.8" stroke="#000" stroke-width="7.8"/>
<path d="M1731.0 1635.8v-10.8M1731.0 82.4v10.8" stroke="rgba(0,0,0,0.5)" stroke-width="3.0"/>
<path d="M1786.8 1635.8v-10.8M1786.8 82.4v10.8" stroke="#262626" stroke-width="3.0"/>
<path d="M1842.6 1635.8v-10.8M1842.6 82.4v10.8" stroke="rgba(0,0,0,0.5)" stroke-width="3.0"/>
<path d="M1898.4 1635.8v-10.8M1898.4 82.4v10.8" stroke="#262626" stroke-width="3.0"/>
<path d="M1955.2 1635.8v-27.8M1955.2 82.4v27.8" stroke="#000" stroke-width="7.8"/>
<path d="M280.8 1516.5h10.8" stroke="#262626" stroke-width="3.0"/>
<path d="M280.8 1456.8h10.8" stroke="#262626" stroke-width="3.0"/>
<path d="M280.8 1397.0h27.8" stroke="#000" stroke-width="7.8"/>
<path d="M280.8 1337.2h10.8" stroke="#262626" stroke-width="3.0"/>
<path d="M280.8 1277.5h10.8" stroke="#262626" stroke-width="3.0"/>
<path d="M280.8 1217.8h10.8" stroke="#262626" stroke-width="3.0"/>
<path d="M280.8 1158.0h27.8" stroke="#000" stroke-width="7.8"/>
<path d="M280.8 1098.2h10.8" stroke="#262626" stroke-width="3.0"/>
<path d="M280.8 1038.5h10.8" stroke="#262626" stroke-width="3.0"/>
<path d="M280.8 978.8h10.8" stroke="#262626" stroke-width="3.0"/>
<path d="M280.8 919.0h27.8" stroke="#000" stroke-width="7.8"/>
<path d="M280.8 859.2h10.8" stroke="#262626" stroke-width="3.0"/>
<path d="M280.8 799.5h10.8" stroke="#262626" stroke-width="3.0"/>
<path d="M280.8 739.8h10.8" stroke="#262626" stroke-width="3.0"/>
<path d="M280.8 680.0h27.8" stroke="#000" stroke-width="7.8"/>
<path d="M280.8 620.3h10.8" stroke="#262626" stroke-width="3.0"/>
<path d="M280.8 560.5h10.8" stroke="#262626" stroke-width="3.0"/>
<path d="M280.8 500.8h10.8" stroke="#262626" stroke-width="3.0"/>
<path d="M280.8 441.0h27.8" stroke="#000" stroke-width="7.8"/>
<path d="M280.8 381.2h10.8" stroke="#262626" stroke-width="3.0"/>
<path d="M280.8 321.5h10.8" stroke="#262626" stroke-width="3.0"/>
<path d="M280.8 261.8h10.8" stroke="#262626" stroke-width="3.0"/>
<path d="M280.8 202.0h27.8" stroke="#000" stroke-width="7.8"/>
<path d="M280.8 142.2h10.8" stroke="#262626" stroke-width="3.0"/>
<rect x="280.8" y="82.4" width="1702.8" height="1553.4" stroke="#000" stroke-width="8.2"/>
</g>
<text class="tl" transform="translate(280.3 1697.9) scale(0.984 1)" text-anchor="middle">0</text>
<text class="tl" transform="translate(559.4 1697.9) scale(0.984 1)" text-anchor="middle">100</text>
<text class="tl" transform="translate(838.4 1697.9) scale(0.984 1)" text-anchor="middle">200</text>
<text class="tl" transform="translate(1117.5 1697.9) scale(0.984 1)" text-anchor="middle">300</text>
<text class="tl" transform="translate(1396.6 1697.9) scale(0.984 1)" text-anchor="middle">400</text>
<text class="tl" transform="translate(1675.7 1697.9) scale(0.984 1)" text-anchor="middle">500</text>
<text class="tl" transform="translate(1954.7 1697.9) scale(0.984 1)" text-anchor="middle">600</text>
<text class="tl" transform="translate(256.8 1657.3) scale(0.984 1)" text-anchor="end">0</text>
<text class="tl" transform="translate(256.8 1418.3) scale(0.984 1)" text-anchor="end">20</text>
<text class="tl" transform="translate(256.8 1179.3) scale(0.984 1)" text-anchor="end">40</text>
<text class="tl" transform="translate(256.8 940.3) scale(0.984 1)" text-anchor="end">60</text>
<text class="tl" transform="translate(256.8 701.3) scale(0.984 1)" text-anchor="end">80</text>
<text class="tl" transform="translate(256.8 462.3) scale(0.984 1)" text-anchor="end">100</text>
<text class="tl" transform="translate(256.8 223.3) scale(0.984 1)" text-anchor="end">120</text>
<text class="ax" transform="translate(1130.3 1766.0) scale(0.968 1)" text-anchor="middle">Time (s)</text>
<text class="ax" transform="translate(143.9 964.9) rotate(-90) scale(0.968 1)"><tspan class="dl">Δ</tspan><tspan x="47.0">T (K)</tspan></text>
<path d="M1424.3 191.1H1705.0" fill="none" stroke="#fb0000" stroke-width="8.0"/>
<text class="lg" transform="translate(1933.6 211.0) scale(0.972 1)" text-anchor="end">5 mm</text>
<path d="M1424.3 265.1H1705.0" fill="none" stroke="#2018ff" stroke-width="8.0"/>
<text class="lg" transform="translate(1933.6 282.6) scale(0.972 1)" text-anchor="end">15 mm</text>
<path d="M1424.3 338.1H1705.0" fill="none" stroke="#00d200" stroke-width="9.7"/>
<text class="lg" transform="translate(1933.6 356.7) scale(0.972 1)" text-anchor="end">25 mm</text>
<path d="M1424.3 409.7H1705.0" fill="none" stroke="#ffaaff" stroke-width="8.0"/>
<text class="lg" transform="translate(1933.6 428.8) scale(0.972 1)" text-anchor="end">35 mm</text>
<path d="M1424.3 483.5H1705.0" fill="none" stroke="#00ffff" stroke-width="9.8"/>
<text class="lg" transform="translate(1933.6 500.5) scale(0.972 1)" text-anchor="end">45 mm</text>
<path d="M1424.3 554.7H1705.0" fill="none" stroke="#ff8000" stroke-width="8.5"/>
<text class="lg" transform="translate(1933.6 573.2) scale(0.972 1)" text-anchor="end">75 mm</text>
<path d="M1424.3 627.9H1705.0" fill="none" stroke="#4e4e4e" stroke-width="8.0"/>
<text class="lg" transform="translate(1933.6 645.8) scale(0.972 1)" text-anchor="end">95 mm</text>
</g>
</svg>
</body></html>
